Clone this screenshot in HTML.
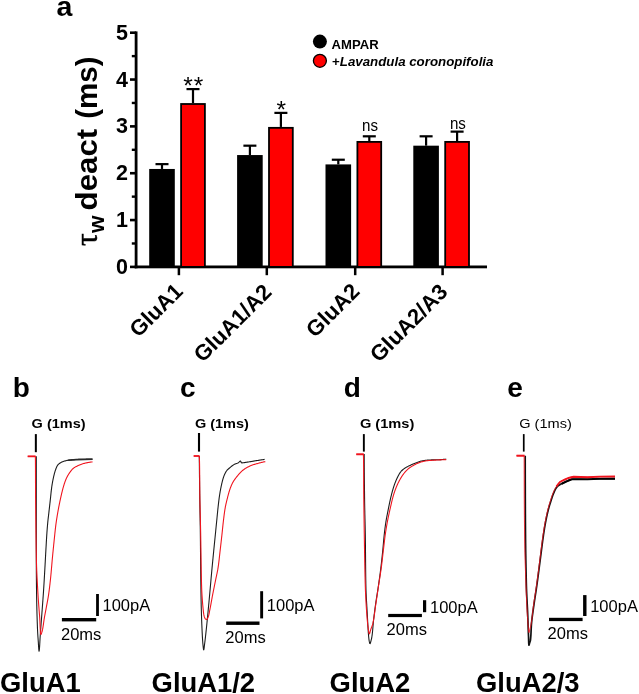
<!DOCTYPE html>
<html><head><meta charset="utf-8"><title>Figure</title>
<style>
html,body{margin:0;padding:0;background:#fff;}
body{width:639px;height:694px;overflow:hidden;font-family:"Liberation Sans",sans-serif;}
svg{display:block;will-change:transform;}
text{fill:#000;}
</style></head><body>
<svg width="639" height="694" viewBox="0 0 639 694">
<rect width="639" height="694" fill="#fff"/>
<text x="56.6" y="16.2" font-size="28.5" font-weight="bold" font-family="Liberation Sans, sans-serif">a</text>
<rect x="134.70" y="31.40" width="2.8" height="236.90" fill="#000"/>
<rect x="134.70" y="265.50" width="352.30" height="2.8" fill="#000"/>
<rect x="130" y="265.60" width="6" height="2.6" fill="#000"/>
<text x="128.0" y="273.90" font-size="21.5" font-weight="bold" text-anchor="end" font-family="Liberation Sans, sans-serif">0</text>
<rect x="130" y="218.76" width="6" height="2.6" fill="#000"/>
<text x="128.0" y="227.06" font-size="21.5" font-weight="bold" text-anchor="end" font-family="Liberation Sans, sans-serif">1</text>
<rect x="130" y="171.92" width="6" height="2.6" fill="#000"/>
<text x="128.0" y="180.22" font-size="21.5" font-weight="bold" text-anchor="end" font-family="Liberation Sans, sans-serif">2</text>
<rect x="130" y="125.08" width="6" height="2.6" fill="#000"/>
<text x="128.0" y="133.38" font-size="21.5" font-weight="bold" text-anchor="end" font-family="Liberation Sans, sans-serif">3</text>
<rect x="130" y="78.24" width="6" height="2.6" fill="#000"/>
<text x="128.0" y="86.54" font-size="21.5" font-weight="bold" text-anchor="end" font-family="Liberation Sans, sans-serif">4</text>
<rect x="130" y="31.40" width="6" height="2.6" fill="#000"/>
<text x="128.0" y="39.70" font-size="21.5" font-weight="bold" text-anchor="end" font-family="Liberation Sans, sans-serif">5</text>
<rect x="131.8" y="242.28" width="4" height="2.4" fill="#000"/>
<rect x="131.8" y="195.44" width="4" height="2.4" fill="#000"/>
<rect x="131.8" y="148.60" width="4" height="2.4" fill="#000"/>
<rect x="131.8" y="101.76" width="4" height="2.4" fill="#000"/>
<rect x="131.8" y="54.92" width="4" height="2.4" fill="#000"/>
<g transform="translate(96.7,246) rotate(-90)" font-weight="bold" font-family="Liberation Sans, sans-serif"><text x="0" y="0" font-family="Liberation Serif, serif" font-weight="normal" font-size="31.5" stroke="#000" stroke-width="0.5">τ</text><text x="13.1" y="6.8" font-size="22.5">w</text><text transform="translate(35.6,0) scale(1.06,1)" font-size="29.5">deact</text><text x="127.2" y="0" font-size="29.5">(ms)</text></g>
<rect x="160.90" y="164.13" width="2.2" height="4.82" fill="#000"/>
<rect x="155.50" y="163.03" width="13" height="2.2" fill="#000"/>
<rect x="191.90" y="89.10" width="2.2" height="14.01" fill="#000"/>
<rect x="186.50" y="88.00" width="13" height="2.2" fill="#000"/>
<rect x="149.20" y="168.96" width="25.6" height="97.94" fill="#000"/>
<rect x="181.10" y="104.00" width="23.8" height="162.90" fill="#ff0000" stroke="#000" stroke-width="1.8"/>
<rect x="177.65" y="266.90" width="2.5" height="8.3" fill="#000"/>
<text x="193.00" y="94.00" font-size="24.5" letter-spacing="0.9" text-anchor="middle" dx="0.8" font-family="Liberation Sans, sans-serif">**</text>
<rect x="248.80" y="145.68" width="2.2" height="9.37" fill="#000"/>
<rect x="243.40" y="144.58" width="13" height="2.2" fill="#000"/>
<rect x="279.80" y="112.89" width="2.2" height="14.05" fill="#000"/>
<rect x="274.40" y="111.79" width="13" height="2.2" fill="#000"/>
<rect x="237.10" y="155.05" width="25.6" height="111.85" fill="#000"/>
<rect x="269.00" y="127.84" width="23.8" height="139.06" fill="#ff0000" stroke="#000" stroke-width="1.8"/>
<rect x="265.55" y="266.90" width="2.5" height="8.3" fill="#000"/>
<text x="280.90" y="118.40" font-size="24.5" letter-spacing="0.9" text-anchor="middle" dx="0.8" font-family="Liberation Sans, sans-serif">*</text>
<rect x="337.20" y="159.73" width="2.2" height="4.68" fill="#000"/>
<rect x="331.80" y="158.63" width="13" height="2.2" fill="#000"/>
<rect x="368.20" y="136.31" width="2.2" height="4.68" fill="#000"/>
<rect x="362.80" y="135.21" width="13" height="2.2" fill="#000"/>
<rect x="325.50" y="164.41" width="25.6" height="102.49" fill="#000"/>
<rect x="357.40" y="141.89" width="23.8" height="125.01" fill="#ff0000" stroke="#000" stroke-width="1.8"/>
<rect x="353.95" y="266.90" width="2.5" height="8.3" fill="#000"/>
<text transform="translate(370.10,131.40) scale(0.9,1)" font-size="16.8" text-anchor="middle" font-family="Liberation Sans, sans-serif">ns</text>
<rect x="425.00" y="136.31" width="2.2" height="9.37" fill="#000"/>
<rect x="419.60" y="135.21" width="13" height="2.2" fill="#000"/>
<rect x="456.00" y="131.63" width="2.2" height="9.37" fill="#000"/>
<rect x="450.60" y="130.53" width="13" height="2.2" fill="#000"/>
<rect x="413.30" y="145.68" width="25.6" height="121.22" fill="#000"/>
<rect x="445.20" y="141.89" width="23.8" height="125.01" fill="#ff0000" stroke="#000" stroke-width="1.8"/>
<rect x="441.35" y="266.90" width="2.5" height="8.3" fill="#000"/>
<text transform="translate(457.90,128.70) scale(0.9,1)" font-size="16.8" text-anchor="middle" font-family="Liberation Sans, sans-serif">ns</text>
<text transform="translate(184.20,292.50) rotate(-45)" font-size="22" font-weight="bold" text-anchor="end" font-family="Liberation Sans, sans-serif">GluA1</text>
<text transform="translate(272.80,293.30) rotate(-45)" font-size="22" font-weight="bold" text-anchor="end" font-family="Liberation Sans, sans-serif">GluA1/A2</text>
<text transform="translate(360.90,292.60) rotate(-45)" font-size="22" font-weight="bold" text-anchor="end" font-family="Liberation Sans, sans-serif">GluA2</text>
<text transform="translate(449.00,293.20) rotate(-45)" font-size="22" font-weight="bold" text-anchor="end" font-family="Liberation Sans, sans-serif">GluA2/A3</text>
<circle cx="319.9" cy="41.6" r="7.0" fill="#000"/>
<circle cx="319.9" cy="60.8" r="6.5" fill="#ff0000" stroke="#000" stroke-width="1.3"/>
<text x="331.6" y="49.4" font-size="13.1" font-weight="bold" font-family="Liberation Sans, sans-serif">AMPAR</text>
<text x="332.0" y="66.1" font-size="13.3" font-weight="bold" font-family="Liberation Sans, sans-serif">+<tspan font-style="italic">Lavandula coronopifolia</tspan></text>
<path d="M36.30,456.30 L36.30,457.00 L36.30,457.70 L36.30,458.40 L36.30,459.10 L36.30,459.81 L36.30,460.51 L36.30,461.21 L36.30,461.91 L36.30,462.61 L36.30,463.31 L36.30,464.01 L36.30,464.71 L36.30,465.42 L36.30,466.12 L36.30,466.82 L36.30,467.52 L36.30,468.22 L36.30,468.92 L36.30,469.62 L36.30,470.32 L36.30,471.02 L36.30,471.73 L36.30,472.43 L36.30,473.13 L36.30,473.83 L36.30,474.53 L36.30,475.23 L36.30,475.93 L36.30,476.63 L36.30,477.34 L36.30,478.04 L36.30,478.74 L36.30,479.44 L36.30,480.14 L36.30,480.84 L36.30,481.54 L36.30,482.24 L36.30,482.94 L36.30,483.65 L36.30,484.35 L36.30,485.05 L36.30,485.75 L36.30,486.45 L36.30,487.15 L36.30,487.85 L36.30,488.55 L36.30,489.26 L36.30,489.96 L36.30,490.66 L36.30,491.36 L36.30,492.06 L36.30,492.76 L36.30,493.46 L36.30,494.16 L36.30,494.86 L36.30,495.57 L36.30,496.27 L36.30,496.97 L36.30,497.67 L36.30,498.37 L36.30,499.07 L36.30,499.77 L36.30,500.47 L36.30,501.18 L36.30,501.88 L36.30,502.58 L36.30,503.28 L36.30,503.98 L36.30,504.68 L36.30,505.38 L36.30,506.08 L36.30,506.79 L36.30,507.49 L36.30,508.19 L36.30,508.89 L36.30,509.59 L36.30,510.29 L36.30,510.99 L36.30,511.69 L36.30,512.39 L36.30,513.10 L36.30,513.80 L36.30,514.50 L36.30,515.20 L36.30,515.90 L36.30,516.60 L36.30,517.30 L36.30,518.00 L36.30,518.71 L36.30,519.41 L36.30,520.11 L36.30,520.81 L36.30,521.51 L36.30,522.21 L36.30,522.91 L36.30,523.61 L36.30,524.31 L36.30,525.02 L36.30,525.72 L36.30,526.42 L36.30,527.12 L36.30,527.82 L36.30,528.52 L36.30,529.22 L36.30,529.92 L36.30,530.63 L36.30,531.33 L36.30,532.03 L36.30,532.73 L36.30,533.43 L36.30,534.13 L36.30,534.83 L36.30,535.53 L36.30,536.23 L36.30,536.94 L36.30,537.64 L36.30,538.34 L36.30,539.04 L36.30,539.74 L36.30,540.44 L36.30,541.14 L36.30,541.84 L36.30,542.55 L36.30,543.25 L36.30,543.95 L36.30,544.65 L36.30,545.35 L36.30,546.05 L36.30,546.75 L36.30,547.45 L36.30,548.15 L36.30,548.86 L36.30,549.56 L36.30,550.26 L36.30,550.96 L36.30,551.66 L36.30,552.36 L36.30,553.06 L36.30,553.76 L36.30,554.47 L36.30,555.17 L36.30,555.87 L36.30,556.57 L36.30,557.27 L36.30,557.97 L36.30,558.67 L36.30,559.37 L36.30,560.07 L36.30,560.78 L36.30,561.48 L36.30,562.18 L36.30,562.88 L36.30,563.58 L36.31,564.28 L36.31,564.98 L36.31,565.68 L36.31,566.39 L36.32,567.09 L36.32,567.79 L36.32,568.49 L36.33,569.19 L36.33,569.89 L36.34,570.59 L36.34,571.29 L36.35,571.99 L36.35,572.70 L36.36,573.40 L36.36,574.10 L36.37,574.80 L36.37,575.50 L36.38,576.20 L36.39,576.90 L36.39,577.60 L36.40,578.31 L36.41,579.01 L36.42,579.71 L36.42,580.41 L36.43,581.11 L36.44,581.81 L36.45,582.51 L36.45,583.21 L36.46,583.91 L36.47,584.62 L36.48,585.32 L36.49,586.02 L36.49,586.72 L36.50,587.42 L36.51,588.12 L36.52,588.82 L36.53,589.52 L36.54,590.23 L36.55,590.93 L36.56,591.63 L36.57,592.33 L36.57,593.03 L36.58,593.73 L36.59,594.43 L36.60,595.13 L36.61,595.83 L36.62,596.53 L36.63,597.24 L36.64,597.94 L36.65,598.64 L36.66,599.34 L36.68,600.04 L36.69,600.74 L36.70,601.44 L36.71,602.14 L36.73,602.84 L36.74,603.55 L36.76,604.25 L36.77,604.95 L36.78,605.65 L36.80,606.35 L36.82,607.05 L36.83,607.75 L36.85,608.45 L36.87,609.15 L36.88,609.86 L36.90,610.56 L36.92,611.26 L36.94,611.96 L36.96,612.66 L36.97,613.36 L36.99,614.06 L37.01,614.76 L37.03,615.46 L37.06,616.17 L37.08,616.87 L37.10,617.57 L37.12,618.27 L37.14,618.97 L37.16,619.67 L37.19,620.37 L37.21,621.07 L37.23,621.77 L37.26,622.47 L37.28,623.17 L37.31,623.87 L37.33,624.57 L37.36,625.28 L37.38,625.98 L37.41,626.68 L37.44,627.38 L37.46,628.08 L37.49,628.78 L37.52,629.48 L37.55,630.18 L37.58,630.88 L37.62,631.58 L37.66,632.28 L37.69,632.98 L37.74,633.68 L37.78,634.38 L37.82,635.08 L37.87,635.78 L37.91,636.48 L37.96,637.18 L38.01,637.88 L38.06,638.58 L38.11,639.28 L38.16,639.98 L38.21,640.68 L38.26,641.38 L38.31,642.08 L38.36,642.83 L38.41,643.67 L38.46,644.56 L38.52,645.49 L38.58,646.42 L38.64,647.33 L38.70,648.20 L38.76,649.01 L38.82,649.72 L38.88,650.32 L38.93,650.79 L38.99,651.09 L39.05,651.20 L39.10,651.15 L39.16,651.00 L39.21,650.76 L39.26,650.43 L39.31,650.01 L39.37,649.52 L39.42,648.96 L39.47,648.33 L39.52,647.64 L39.57,646.90 L39.63,646.12 L39.68,645.29 L39.73,644.44 L39.78,643.55 L39.83,642.65 L39.88,641.73 L39.93,640.80 L39.98,639.86 L40.03,638.94 L40.08,638.02 L40.14,637.11 L40.19,636.23 L40.24,635.38 L40.29,634.56 L40.34,633.79 L40.40,633.06 L40.45,632.36 L40.50,631.66 L40.55,630.96 L40.61,630.26 L40.66,629.56 L40.71,628.86 L40.77,628.16 L40.82,627.47 L40.87,626.77 L40.93,626.07 L40.98,625.37 L41.04,624.67 L41.09,623.97 L41.14,623.27 L41.20,622.57 L41.25,621.87 L41.30,621.17 L41.36,620.47 L41.41,619.78 L41.46,619.08 L41.52,618.38 L41.57,617.68 L41.62,616.98 L41.68,616.28 L41.73,615.58 L41.78,614.88 L41.84,614.18 L41.89,613.48 L41.94,612.78 L41.99,612.08 L42.05,611.39 L42.10,610.69 L42.15,609.99 L42.20,609.29 L42.26,608.59 L42.31,607.89 L42.36,607.19 L42.41,606.49 L42.47,605.79 L42.52,605.09 L42.57,604.39 L42.62,603.69 L42.68,602.99 L42.73,602.30 L42.78,601.60 L42.83,600.90 L42.88,600.20 L42.94,599.50 L42.99,598.80 L43.04,598.10 L43.09,597.40 L43.14,596.70 L43.19,596.00 L43.24,595.30 L43.29,594.60 L43.34,593.90 L43.39,593.20 L43.43,592.50 L43.48,591.80 L43.53,591.10 L43.57,590.41 L43.62,589.71 L43.66,589.01 L43.71,588.31 L43.75,587.61 L43.80,586.91 L43.84,586.21 L43.88,585.51 L43.93,584.81 L43.97,584.11 L44.01,583.41 L44.05,582.71 L44.10,582.01 L44.14,581.31 L44.18,580.61 L44.22,579.91 L44.26,579.21 L44.30,578.51 L44.34,577.81 L44.38,577.11 L44.42,576.41 L44.46,575.71 L44.50,575.01 L44.54,574.31 L44.58,573.61 L44.62,572.91 L44.66,572.21 L44.70,571.51 L44.74,570.81 L44.78,570.11 L44.82,569.41 L44.86,568.71 L44.90,568.01 L44.94,567.31 L44.98,566.61 L45.02,565.91 L45.06,565.21 L45.10,564.51 L45.13,563.81 L45.17,563.11 L45.21,562.41 L45.25,561.71 L45.29,561.01 L45.32,560.31 L45.36,559.61 L45.40,558.91 L45.44,558.21 L45.48,557.50 L45.51,556.80 L45.55,556.10 L45.59,555.40 L45.63,554.70 L45.66,554.00 L45.70,553.30 L45.74,552.60 L45.78,551.90 L45.82,551.20 L45.86,550.50 L45.90,549.80 L45.94,549.10 L45.98,548.40 L46.02,547.70 L46.06,547.00 L46.10,546.30 L46.14,545.60 L46.18,544.90 L46.22,544.20 L46.26,543.50 L46.29,542.80 L46.33,542.10 L46.37,541.40 L46.42,540.70 L46.46,540.00 L46.50,539.30 L46.54,538.60 L46.58,537.90 L46.62,537.20 L46.67,536.50 L46.71,535.80 L46.76,535.10 L46.80,534.40 L46.85,533.70 L46.90,533.00 L46.95,532.31 L47.00,531.61 L47.05,530.91 L47.10,530.21 L47.16,529.51 L47.21,528.81 L47.27,528.11 L47.32,527.41 L47.38,526.71 L47.44,526.01 L47.50,525.31 L47.56,524.62 L47.62,523.92 L47.69,523.22 L47.75,522.52 L47.82,521.82 L47.89,521.13 L47.96,520.43 L48.03,519.73 L48.11,519.03 L48.19,518.34 L48.27,517.64 L48.35,516.95 L48.44,516.25 L48.52,515.55 L48.60,514.86 L48.68,514.16 L48.77,513.46 L48.85,512.77 L48.93,512.07 L49.00,511.37 L49.08,510.68 L49.16,509.98 L49.24,509.28 L49.32,508.59 L49.40,507.89 L49.48,507.19 L49.56,506.50 L49.64,505.80 L49.71,505.10 L49.79,504.41 L49.87,503.71 L49.95,503.01 L50.03,502.32 L50.11,501.62 L50.19,500.92 L50.26,500.23 L50.34,499.53 L50.42,498.83 L50.49,498.13 L50.56,497.44 L50.64,496.74 L50.71,496.04 L50.78,495.34 L50.85,494.64 L50.92,493.95 L50.99,493.25 L51.07,492.55 L51.14,491.85 L51.22,491.16 L51.30,490.46 L51.38,489.76 L51.47,489.07 L51.56,488.37 L51.65,487.68 L51.74,486.99 L51.84,486.29 L51.95,485.60 L52.06,484.91 L52.17,484.21 L52.29,483.52 L52.41,482.83 L52.53,482.14 L52.66,481.45 L52.79,480.76 L52.92,480.07 L53.06,479.38 L53.20,478.69 L53.35,478.01 L53.50,477.32 L53.65,476.64 L53.81,475.96 L53.97,475.28 L54.14,474.60 L54.32,473.91 L54.50,473.23 L54.69,472.55 L54.89,471.88 L55.10,471.21 L55.31,470.54 L55.54,469.88 L55.78,469.22 L56.03,468.57 L56.29,467.91 L56.56,467.23 L56.86,466.57 L57.19,465.94 L57.54,465.34 L57.92,464.80 L58.36,464.31 L58.89,463.85 L59.47,463.43 L60.08,463.03 L60.70,462.68 L61.31,462.36 L61.94,462.05 L62.59,461.77 L63.25,461.50 L63.91,461.26 L64.58,461.04 L65.25,460.86 L65.93,460.70 L66.62,460.55 L67.31,460.41 L68.00,460.29 L68.70,460.18 L69.39,460.09 L70.09,460.01 L70.78,459.93 L71.48,459.85 L72.18,459.79 L72.88,459.72 L73.58,459.66 L74.28,459.61 L74.98,459.57 L75.68,459.53 L76.38,459.50 L77.08,459.47 L77.78,459.44 L78.48,459.41 L79.18,459.39 L79.88,459.36 L80.58,459.34 L81.28,459.31 L81.98,459.29 L82.68,459.27 L83.38,459.24 L84.08,459.22 L84.78,459.21 L85.48,459.19 L86.18,459.17 L86.88,459.16 L87.59,459.15 L88.29,459.13 L88.99,459.12 L89.69,459.12 L90.39,459.11 L91.10,459.10 L91.80,459.10 L92.50,459.10" fill="none" stroke="#1c1c1c" stroke-width="1.1" stroke-linejoin="round" stroke-linecap="butt" />
<path d="M68.00,460.20 L76.30,459.60 L92.50,459.20" fill="none" stroke="#2a2a2a" stroke-width="1.6" stroke-linejoin="round" stroke-linecap="butt" />
<path d="M27.70,456.40 L35.60,456.40" fill="none" stroke="#f0141e" stroke-width="1.7" stroke-linejoin="round" stroke-linecap="butt" />
<path d="M27.70,456.30 L28.55,456.30 L29.45,456.30 L30.38,456.30 L31.32,456.30 L32.22,456.30 L33.06,456.30 L33.81,456.30 L34.44,456.30 L34.92,456.30 L35.21,456.30 L35.30,456.30 L35.31,456.33 L35.33,456.41 L35.34,456.52 L35.35,456.68 L35.36,456.88 L35.37,457.12 L35.38,457.40 L35.39,457.71 L35.39,458.06 L35.40,458.45 L35.41,458.87 L35.42,459.32 L35.42,459.81 L35.43,460.32 L35.44,460.87 L35.44,461.44 L35.45,462.04 L35.45,462.67 L35.46,463.33 L35.46,464.00 L35.47,464.71 L35.47,465.43 L35.47,466.17 L35.48,466.94 L35.48,467.72 L35.48,468.52 L35.49,469.34 L35.49,470.17 L35.49,471.02 L35.50,471.88 L35.50,472.75 L35.50,473.64 L35.50,474.53 L35.51,475.43 L35.51,476.35 L35.51,477.26 L35.51,478.19 L35.51,479.12 L35.52,480.05 L35.52,480.98 L35.52,481.92 L35.52,482.86 L35.53,483.79 L35.53,484.73 L35.53,485.66 L35.53,486.58 L35.54,487.51 L35.54,488.42 L35.54,489.33 L35.55,490.23 L35.55,491.12 L35.55,492.00 L35.56,492.87 L35.56,493.72 L35.56,494.56 L35.57,495.39 L35.57,496.20 L35.58,496.99 L35.58,497.77 L35.59,498.53 L35.59,499.26 L35.60,499.98 L35.61,500.68 L35.61,501.38 L35.62,502.08 L35.62,502.79 L35.63,503.49 L35.64,504.19 L35.64,504.89 L35.65,505.60 L35.66,506.30 L35.66,507.00 L35.67,507.70 L35.68,508.41 L35.68,509.11 L35.69,509.81 L35.70,510.51 L35.70,511.22 L35.71,511.92 L35.72,512.62 L35.72,513.32 L35.73,514.03 L35.74,514.73 L35.74,515.43 L35.75,516.13 L35.76,516.84 L35.76,517.54 L35.77,518.24 L35.78,518.94 L35.79,519.65 L35.79,520.35 L35.80,521.05 L35.81,521.75 L35.82,522.46 L35.82,523.16 L35.83,523.86 L35.84,524.56 L35.85,525.26 L35.86,525.97 L35.86,526.67 L35.87,527.37 L35.88,528.07 L35.89,528.78 L35.90,529.48 L35.91,530.18 L35.91,530.88 L35.92,531.59 L35.93,532.29 L35.94,532.99 L35.95,533.69 L35.96,534.40 L35.97,535.10 L35.98,535.80 L35.99,536.50 L36.00,537.21 L36.01,537.91 L36.02,538.61 L36.03,539.31 L36.04,540.02 L36.05,540.72 L36.06,541.42 L36.07,542.12 L36.08,542.83 L36.09,543.53 L36.10,544.23 L36.12,544.93 L36.13,545.63 L36.14,546.34 L36.15,547.04 L36.16,547.74 L36.17,548.44 L36.19,549.15 L36.20,549.85 L36.21,550.55 L36.22,551.25 L36.24,551.95 L36.25,552.66 L36.26,553.36 L36.28,554.06 L36.29,554.76 L36.31,555.47 L36.32,556.17 L36.33,556.87 L36.35,557.57 L36.36,558.27 L36.38,558.98 L36.39,559.68 L36.41,560.38 L36.42,561.08 L36.44,561.78 L36.46,562.49 L36.48,563.19 L36.50,563.89 L36.52,564.59 L36.54,565.29 L36.57,566.00 L36.59,566.70 L36.62,567.40 L36.64,568.10 L36.67,568.80 L36.70,569.51 L36.72,570.21 L36.75,570.91 L36.78,571.61 L36.81,572.31 L36.84,573.01 L36.87,573.72 L36.91,574.42 L36.94,575.12 L36.97,575.82 L37.01,576.52 L37.04,577.23 L37.08,577.93 L37.11,578.63 L37.15,579.33 L37.18,580.03 L37.22,580.73 L37.26,581.44 L37.29,582.14 L37.33,582.84 L37.37,583.54 L37.41,584.24 L37.45,584.94 L37.49,585.64 L37.53,586.35 L37.57,587.05 L37.61,587.75 L37.65,588.45 L37.69,589.15 L37.73,589.85 L37.77,590.55 L37.81,591.26 L37.85,591.96 L37.89,592.66 L37.93,593.36 L37.97,594.06 L38.01,594.76 L38.05,595.46 L38.09,596.16 L38.14,596.86 L38.18,597.57 L38.23,598.27 L38.28,598.97 L38.32,599.67 L38.37,600.37 L38.42,601.07 L38.48,601.77 L38.53,602.47 L38.58,603.17 L38.63,603.87 L38.69,604.57 L38.74,605.27 L38.79,605.97 L38.85,606.67 L38.90,607.37 L38.96,608.07 L39.01,608.77 L39.07,609.47 L39.12,610.17 L39.18,610.87 L39.24,611.57 L39.29,612.27 L39.35,612.98 L39.40,613.68 L39.46,614.38 L39.51,615.08 L39.56,615.78 L39.62,616.48 L39.67,617.18 L39.72,617.88 L39.77,618.63 L39.81,619.43 L39.86,620.27 L39.90,621.14 L39.94,622.04 L39.97,622.95 L40.01,623.88 L40.05,624.82 L40.08,625.75 L40.12,626.67 L40.16,627.57 L40.20,628.45 L40.24,629.30 L40.28,630.11 L40.33,630.88 L40.38,631.59 L40.44,632.24 L40.50,632.82 L40.56,633.33 L40.63,633.76 L40.71,634.09 L40.79,634.33 L40.88,634.47 L40.98,634.48 L41.17,634.15 L41.42,633.49 L41.71,632.66 L41.99,631.79 L42.20,631.01 L42.36,630.34 L42.51,629.66 L42.64,628.97 L42.78,628.29 L42.90,627.60 L43.02,626.91 L43.13,626.21 L43.23,625.52 L43.34,624.82 L43.44,624.12 L43.53,623.42 L43.63,622.72 L43.73,622.02 L43.82,621.33 L43.92,620.63 L44.03,619.93 L44.13,619.23 L44.24,618.54 L44.36,617.84 L44.48,617.15 L44.60,616.46 L44.73,615.77 L44.86,615.08 L44.99,614.39 L45.12,613.70 L45.25,613.01 L45.38,612.32 L45.52,611.63 L45.65,610.94 L45.78,610.25 L45.91,609.56 L46.04,608.87 L46.17,608.18 L46.29,607.49 L46.42,606.80 L46.55,606.10 L46.68,605.41 L46.82,604.72 L46.95,604.03 L47.08,603.34 L47.21,602.65 L47.34,601.96 L47.47,601.27 L47.60,600.58 L47.72,599.89 L47.85,599.20 L47.97,598.51 L48.09,597.81 L48.21,597.12 L48.32,596.43 L48.43,595.74 L48.54,595.04 L48.64,594.35 L48.74,593.65 L48.83,592.96 L48.93,592.26 L49.02,591.57 L49.12,590.87 L49.21,590.17 L49.30,589.48 L49.38,588.78 L49.47,588.08 L49.56,587.39 L49.64,586.69 L49.72,585.99 L49.80,585.29 L49.89,584.59 L49.96,583.90 L50.04,583.20 L50.12,582.50 L50.20,581.80 L50.27,581.10 L50.35,580.40 L50.42,579.70 L50.50,579.01 L50.57,578.31 L50.64,577.61 L50.71,576.91 L50.78,576.21 L50.85,575.51 L50.92,574.81 L50.98,574.11 L51.05,573.41 L51.11,572.71 L51.17,572.02 L51.23,571.32 L51.30,570.62 L51.36,569.92 L51.42,569.22 L51.48,568.52 L51.54,567.82 L51.60,567.12 L51.66,566.42 L51.72,565.72 L51.78,565.02 L51.84,564.32 L51.90,563.62 L51.96,562.92 L52.02,562.22 L52.08,561.52 L52.14,560.82 L52.20,560.12 L52.27,559.42 L52.33,558.72 L52.40,558.02 L52.46,557.32 L52.53,556.62 L52.60,555.92 L52.67,555.22 L52.73,554.52 L52.80,553.82 L52.87,553.12 L52.94,552.43 L53.01,551.73 L53.08,551.03 L53.15,550.33 L53.21,549.63 L53.28,548.93 L53.35,548.23 L53.43,547.53 L53.50,546.83 L53.57,546.13 L53.64,545.44 L53.71,544.74 L53.78,544.04 L53.85,543.34 L53.93,542.64 L54.00,541.94 L54.07,541.24 L54.14,540.55 L54.22,539.85 L54.29,539.15 L54.36,538.45 L54.43,537.75 L54.50,537.05 L54.58,536.35 L54.65,535.65 L54.72,534.95 L54.79,534.26 L54.86,533.56 L54.94,532.86 L55.01,532.16 L55.09,531.46 L55.16,530.76 L55.24,530.06 L55.31,529.37 L55.39,528.67 L55.47,527.97 L55.56,527.27 L55.64,526.57 L55.72,525.88 L55.81,525.18 L55.90,524.49 L55.99,523.79 L56.09,523.09 L56.19,522.40 L56.28,521.70 L56.39,521.01 L56.49,520.31 L56.59,519.62 L56.70,518.92 L56.81,518.23 L56.92,517.54 L57.03,516.84 L57.15,516.15 L57.26,515.46 L57.38,514.76 L57.50,514.07 L57.62,513.38 L57.74,512.69 L57.86,511.99 L57.98,511.30 L58.10,510.61 L58.23,509.92 L58.36,509.23 L58.48,508.54 L58.61,507.85 L58.75,507.16 L58.88,506.47 L59.01,505.78 L59.15,505.09 L59.29,504.40 L59.43,503.71 L59.57,503.02 L59.71,502.33 L59.86,501.65 L60.00,500.96 L60.15,500.27 L60.30,499.59 L60.45,498.90 L60.60,498.21 L60.75,497.53 L60.91,496.84 L61.06,496.16 L61.22,495.47 L61.38,494.79 L61.53,494.10 L61.69,493.42 L61.86,492.73 L62.02,492.05 L62.19,491.37 L62.36,490.68 L62.53,490.00 L62.71,489.32 L62.89,488.64 L63.07,487.97 L63.26,487.29 L63.46,486.62 L63.66,485.95 L63.86,485.28 L64.07,484.60 L64.28,483.93 L64.50,483.26 L64.73,482.59 L64.96,481.93 L65.20,481.27 L65.45,480.61 L65.71,479.95 L65.98,479.30 L66.25,478.66 L66.53,478.03 L66.83,477.39 L67.15,476.77 L67.48,476.14 L67.83,475.53 L68.19,474.92 L68.56,474.32 L68.94,473.73 L69.33,473.15 L69.73,472.57 L70.14,471.99 L70.56,471.41 L71.00,470.84 L71.44,470.28 L71.91,469.74 L72.39,469.22 L72.88,468.74 L73.39,468.29 L73.92,467.88 L74.50,467.49 L75.10,467.13 L75.73,466.79 L76.36,466.46 L77.00,466.14 L77.64,465.83 L78.27,465.53 L78.91,465.23 L79.55,464.94 L80.20,464.66 L80.85,464.40 L81.51,464.16 L82.18,463.94 L82.84,463.74 L83.52,463.55 L84.20,463.36 L84.88,463.18 L85.57,463.02 L86.25,462.87 L86.94,462.72 L87.63,462.59 L88.32,462.47 L89.01,462.36 L89.71,462.25 L90.40,462.15 L91.10,462.05 L91.80,461.97 L92.50,461.90" fill="none" stroke="#f0141e" stroke-width="1.1" stroke-linejoin="round" stroke-linecap="butt" />
<text x="12.7" y="397.3" font-size="28" font-weight="bold" font-family="Liberation Sans, sans-serif">b</text>
<text transform="translate(31.6,427.7) scale(1.09,1)" font-size="13.3" font-weight="bold" font-family="Liberation Sans, sans-serif">G (1ms)</text>
<rect x="34.85" y="434.1" width="2.0" height="18.1" fill="#000"/>
<rect x="61.9" y="618.0" width="34.3" height="3.4" fill="#000"/>
<rect x="96.1" y="594" width="2.8" height="22.0" fill="#000"/>
<text x="102.5" y="611" font-size="16.5" font-family="Liberation Sans, sans-serif">100pA</text>
<text x="61" y="640" font-size="16.5" font-family="Liberation Sans, sans-serif">20ms</text>
<text x="0.0" y="691.5" font-size="27.4" font-weight="bold" font-family="Liberation Sans, sans-serif">GluA1</text>
<path d="M199.30,456.00 L199.31,456.70 L199.31,457.40 L199.32,458.11 L199.32,458.81 L199.33,459.51 L199.34,460.21 L199.34,460.91 L199.35,461.62 L199.36,462.32 L199.36,463.02 L199.37,463.72 L199.38,464.42 L199.38,465.13 L199.39,465.83 L199.40,466.53 L199.40,467.23 L199.41,467.93 L199.42,468.63 L199.42,469.34 L199.43,470.04 L199.44,470.74 L199.45,471.44 L199.45,472.14 L199.46,472.85 L199.47,473.55 L199.48,474.25 L199.49,474.95 L199.49,475.65 L199.50,476.36 L199.51,477.06 L199.52,477.76 L199.53,478.46 L199.53,479.16 L199.54,479.87 L199.55,480.57 L199.56,481.27 L199.57,481.97 L199.58,482.67 L199.58,483.37 L199.59,484.08 L199.60,484.78 L199.61,485.48 L199.62,486.18 L199.63,486.88 L199.64,487.59 L199.65,488.29 L199.65,488.99 L199.66,489.69 L199.67,490.39 L199.68,491.10 L199.69,491.80 L199.70,492.50 L199.71,493.20 L199.72,493.90 L199.73,494.61 L199.74,495.31 L199.75,496.01 L199.76,496.71 L199.76,497.41 L199.77,498.11 L199.78,498.82 L199.79,499.52 L199.80,500.22 L199.81,500.92 L199.82,501.62 L199.83,502.33 L199.84,503.03 L199.86,503.73 L199.87,504.43 L199.88,505.13 L199.89,505.83 L199.90,506.54 L199.91,507.24 L199.93,507.94 L199.94,508.64 L199.95,509.34 L199.96,510.05 L199.98,510.75 L199.99,511.45 L200.00,512.15 L200.01,512.85 L200.03,513.56 L200.04,514.26 L200.05,514.96 L200.07,515.66 L200.08,516.36 L200.09,517.06 L200.10,517.77 L200.12,518.47 L200.13,519.17 L200.14,519.87 L200.15,520.57 L200.17,521.28 L200.18,521.98 L200.19,522.68 L200.20,523.38 L200.21,524.08 L200.22,524.78 L200.24,525.49 L200.25,526.19 L200.26,526.89 L200.27,527.59 L200.28,528.29 L200.29,529.00 L200.30,529.70 L200.31,530.40 L200.31,531.10 L200.32,531.80 L200.33,532.51 L200.34,533.21 L200.35,533.91 L200.36,534.61 L200.36,535.31 L200.37,536.01 L200.38,536.72 L200.39,537.42 L200.39,538.12 L200.40,538.82 L200.41,539.52 L200.42,540.23 L200.42,540.93 L200.43,541.63 L200.44,542.33 L200.44,543.03 L200.45,543.74 L200.46,544.44 L200.46,545.14 L200.47,545.84 L200.48,546.54 L200.48,547.25 L200.49,547.95 L200.50,548.65 L200.50,549.35 L200.51,550.05 L200.51,550.76 L200.52,551.46 L200.53,552.16 L200.53,552.86 L200.54,553.56 L200.54,554.26 L200.55,554.97 L200.56,555.67 L200.56,556.37 L200.57,557.07 L200.57,557.77 L200.58,558.48 L200.59,559.18 L200.59,559.88 L200.60,560.58 L200.61,561.28 L200.61,561.99 L200.62,562.69 L200.62,563.39 L200.63,564.09 L200.64,564.79 L200.64,565.50 L200.65,566.20 L200.66,566.90 L200.66,567.60 L200.67,568.30 L200.68,569.01 L200.68,569.71 L200.69,570.41 L200.70,571.11 L200.71,571.81 L200.71,572.51 L200.72,573.22 L200.73,573.92 L200.74,574.62 L200.74,575.32 L200.75,576.02 L200.76,576.73 L200.77,577.43 L200.78,578.13 L200.79,578.83 L200.79,579.53 L200.80,580.24 L200.81,580.94 L200.82,581.64 L200.83,582.34 L200.84,583.04 L200.85,583.75 L200.86,584.45 L200.87,585.15 L200.88,585.85 L200.89,586.55 L200.90,587.25 L200.91,587.96 L200.91,588.66 L200.92,589.36 L200.94,590.06 L200.95,590.76 L200.96,591.47 L200.97,592.17 L200.98,592.87 L200.99,593.57 L201.00,594.27 L201.01,594.98 L201.02,595.68 L201.03,596.38 L201.05,597.08 L201.06,597.78 L201.07,598.49 L201.08,599.19 L201.10,599.89 L201.11,600.59 L201.12,601.29 L201.14,601.99 L201.15,602.70 L201.17,603.40 L201.18,604.10 L201.20,604.80 L201.21,605.50 L201.23,606.20 L201.25,606.91 L201.26,607.61 L201.28,608.31 L201.30,609.01 L201.32,609.71 L201.34,610.41 L201.36,611.12 L201.38,611.82 L201.40,612.52 L201.42,613.22 L201.44,613.92 L201.46,614.63 L201.48,615.33 L201.51,616.03 L201.53,616.73 L201.55,617.43 L201.58,618.13 L201.60,618.84 L201.63,619.54 L201.65,620.24 L201.68,620.94 L201.71,621.64 L201.73,622.34 L201.76,623.04 L201.79,623.75 L201.82,624.45 L201.85,625.15 L201.88,625.85 L201.91,626.55 L201.94,627.25 L201.97,627.95 L202.00,628.66 L202.03,629.36 L202.06,630.06 L202.09,630.76 L202.13,631.46 L202.16,632.16 L202.19,632.86 L202.23,633.56 L202.26,634.26 L202.30,634.96 L202.33,635.67 L202.37,636.37 L202.41,637.07 L202.45,637.77 L202.50,638.47 L202.54,639.17 L202.59,639.87 L202.63,640.57 L202.69,641.27 L202.74,641.97 L202.79,642.67 L202.85,643.37 L202.91,644.07 L202.98,644.77 L203.05,645.51 L203.13,646.37 L203.23,647.29 L203.33,648.19 L203.44,648.97 L203.55,649.56 L203.66,649.87 L203.76,649.84 L203.87,649.51 L203.98,648.95 L204.09,648.22 L204.20,647.37 L204.31,646.45 L204.41,645.54 L204.51,644.67 L204.61,643.92 L204.70,643.22 L204.79,642.53 L204.88,641.83 L204.97,641.14 L205.05,640.44 L205.14,639.74 L205.22,639.04 L205.30,638.35 L205.38,637.65 L205.46,636.95 L205.54,636.25 L205.62,635.56 L205.70,634.86 L205.77,634.16 L205.85,633.46 L205.93,632.77 L206.00,632.07 L206.08,631.37 L206.15,630.67 L206.23,629.97 L206.30,629.28 L206.37,628.58 L206.45,627.88 L206.52,627.18 L206.59,626.48 L206.66,625.79 L206.74,625.09 L206.81,624.39 L206.88,623.69 L206.95,622.99 L207.02,622.29 L207.09,621.60 L207.16,620.90 L207.23,620.20 L207.30,619.50 L207.36,618.80 L207.43,618.10 L207.50,617.40 L207.57,616.71 L207.64,616.01 L207.70,615.31 L207.77,614.61 L207.84,613.91 L207.91,613.21 L207.97,612.51 L208.04,611.81 L208.11,611.11 L208.17,610.42 L208.24,609.72 L208.31,609.02 L208.37,608.32 L208.44,607.62 L208.51,606.92 L208.57,606.22 L208.64,605.52 L208.71,604.83 L208.77,604.13 L208.84,603.43 L208.91,602.73 L208.97,602.03 L209.04,601.33 L209.10,600.63 L209.17,599.93 L209.23,599.23 L209.29,598.54 L209.36,597.84 L209.42,597.14 L209.49,596.44 L209.55,595.74 L209.61,595.04 L209.68,594.34 L209.74,593.64 L209.80,592.94 L209.86,592.24 L209.93,591.54 L209.99,590.85 L210.05,590.15 L210.11,589.45 L210.18,588.75 L210.24,588.05 L210.30,587.35 L210.36,586.65 L210.43,585.95 L210.49,585.25 L210.55,584.55 L210.61,583.85 L210.67,583.15 L210.74,582.46 L210.80,581.76 L210.86,581.06 L210.92,580.36 L210.99,579.66 L211.05,578.96 L211.11,578.26 L211.17,577.56 L211.24,576.86 L211.30,576.16 L211.36,575.46 L211.43,574.76 L211.49,574.07 L211.56,573.37 L211.62,572.67 L211.68,571.97 L211.75,571.27 L211.81,570.57 L211.88,569.87 L211.94,569.17 L212.01,568.47 L212.07,567.78 L212.14,567.08 L212.21,566.38 L212.27,565.68 L212.34,564.98 L212.41,564.28 L212.47,563.58 L212.54,562.88 L212.61,562.18 L212.68,561.49 L212.74,560.79 L212.81,560.09 L212.88,559.39 L212.95,558.69 L213.02,557.99 L213.08,557.29 L213.15,556.60 L213.22,555.90 L213.29,555.20 L213.36,554.50 L213.43,553.80 L213.50,553.10 L213.57,552.40 L213.64,551.71 L213.70,551.01 L213.77,550.31 L213.84,549.61 L213.91,548.91 L213.98,548.21 L214.05,547.51 L214.12,546.82 L214.19,546.12 L214.26,545.42 L214.33,544.72 L214.40,544.02 L214.47,543.32 L214.54,542.62 L214.61,541.93 L214.68,541.23 L214.75,540.53 L214.82,539.83 L214.89,539.13 L214.96,538.43 L215.03,537.74 L215.10,537.04 L215.17,536.34 L215.24,535.64 L215.31,534.94 L215.38,534.24 L215.45,533.55 L215.52,532.85 L215.59,532.15 L215.66,531.45 L215.72,530.75 L215.79,530.05 L215.86,529.35 L215.93,528.66 L216.00,527.96 L216.07,527.26 L216.14,526.56 L216.21,525.86 L216.28,525.16 L216.35,524.46 L216.42,523.77 L216.49,523.07 L216.56,522.37 L216.63,521.67 L216.70,520.97 L216.77,520.27 L216.84,519.58 L216.91,518.88 L216.98,518.18 L217.04,517.48 L217.11,516.78 L217.18,516.08 L217.25,515.38 L217.31,514.68 L217.38,513.99 L217.45,513.29 L217.52,512.59 L217.59,511.89 L217.66,511.19 L217.73,510.49 L217.80,509.79 L217.87,509.10 L217.95,508.40 L218.02,507.70 L218.10,507.00 L218.18,506.31 L218.26,505.61 L218.33,504.91 L218.41,504.21 L218.49,503.51 L218.57,502.82 L218.66,502.12 L218.74,501.42 L218.82,500.73 L218.91,500.03 L219.00,499.33 L219.09,498.64 L219.18,497.94 L219.28,497.25 L219.38,496.55 L219.48,495.86 L219.58,495.16 L219.69,494.47 L219.80,493.78 L219.91,493.08 L220.03,492.39 L220.15,491.70 L220.27,491.01 L220.40,490.31 L220.53,489.62 L220.66,488.93 L220.79,488.24 L220.93,487.56 L221.07,486.87 L221.22,486.18 L221.37,485.50 L221.51,484.81 L221.67,484.12 L221.82,483.44 L221.98,482.75 L222.15,482.06 L222.32,481.38 L222.49,480.69 L222.67,480.01 L222.86,479.34 L223.06,478.66 L223.27,478.00 L223.48,477.33 L223.71,476.68 L223.95,476.02 L224.21,475.36 L224.48,474.70 L224.77,474.05 L225.08,473.41 L225.41,472.77 L225.75,472.16 L226.12,471.57 L226.49,471.01 L226.91,470.47 L227.37,469.95 L227.86,469.45 L228.39,468.97 L228.93,468.49 L229.47,468.03 L230.01,467.58 L230.55,467.12 L231.09,466.67 L231.64,466.23 L232.20,465.79 L232.77,465.37 L233.35,464.97 L233.94,464.61 L234.54,464.27 L235.18,463.98 L235.84,463.73 L236.51,463.48 L237.18,463.23 L237.82,462.96 L238.43,462.64 L239.01,462.17 L239.58,461.58 L240.10,461.11 L240.55,461.06 L240.90,461.73 L241.25,462.57 L241.67,462.90 L242.21,462.87 L242.84,462.81 L243.54,462.72 L244.28,462.62 L245.05,462.50 L245.82,462.38 L246.57,462.26 L247.27,462.16 L247.96,462.06 L248.66,461.95 L249.35,461.83 L250.04,461.72 L250.73,461.60 L251.43,461.48 L252.12,461.36 L252.81,461.23 L253.50,461.12 L254.19,461.00 L254.89,460.88 L255.58,460.77 L256.27,460.66 L256.96,460.55 L257.66,460.44 L258.35,460.34 L259.05,460.23 L259.74,460.12 L260.43,460.02 L261.13,459.91 L261.82,459.81 L262.52,459.71 L263.21,459.60 L263.91,459.50 L264.60,459.40" fill="none" stroke="#1c1c1c" stroke-width="1.1" stroke-linejoin="round" stroke-linecap="butt" />
<path d="M193.70,456.00 L194.53,456.00 L195.44,456.00 L196.37,456.00 L197.25,456.00 L198.02,456.00 L198.62,456.00 L199.00,456.00 L199.11,456.00 L199.14,456.04 L199.17,456.12 L199.20,456.24 L199.23,456.40 L199.26,456.60 L199.29,456.85 L199.31,457.13 L199.33,457.44 L199.36,457.80 L199.38,458.18 L199.40,458.61 L199.42,459.06 L199.44,459.55 L199.45,460.06 L199.47,460.61 L199.49,461.18 L199.50,461.78 L199.52,462.41 L199.53,463.06 L199.54,463.74 L199.56,464.44 L199.57,465.16 L199.58,465.91 L199.59,466.67 L199.60,467.45 L199.61,468.25 L199.62,469.06 L199.63,469.89 L199.63,470.74 L199.64,471.60 L199.65,472.47 L199.66,473.35 L199.66,474.25 L199.67,475.15 L199.68,476.06 L199.68,476.97 L199.69,477.90 L199.69,478.82 L199.70,479.75 L199.71,480.69 L199.71,481.62 L199.72,482.56 L199.72,483.50 L199.73,484.43 L199.73,485.36 L199.74,486.29 L199.75,487.21 L199.75,488.13 L199.76,489.04 L199.77,489.94 L199.78,490.83 L199.79,491.71 L199.79,492.58 L199.80,493.44 L199.81,494.29 L199.82,495.12 L199.83,495.93 L199.84,496.73 L199.86,497.51 L199.87,498.27 L199.88,499.01 L199.89,499.73 L199.91,500.44 L199.92,501.14 L199.94,501.84 L199.95,502.54 L199.97,503.25 L199.99,503.95 L200.00,504.65 L200.02,505.35 L200.03,506.05 L200.05,506.75 L200.07,507.46 L200.08,508.16 L200.10,508.86 L200.12,509.56 L200.13,510.26 L200.15,510.97 L200.17,511.67 L200.19,512.37 L200.20,513.07 L200.22,513.77 L200.24,514.48 L200.25,515.18 L200.27,515.88 L200.29,516.58 L200.31,517.28 L200.32,517.98 L200.34,518.69 L200.36,519.39 L200.38,520.09 L200.39,520.79 L200.41,521.49 L200.43,522.20 L200.44,522.90 L200.46,523.60 L200.48,524.30 L200.49,525.00 L200.51,525.70 L200.52,526.41 L200.54,527.11 L200.55,527.81 L200.57,528.51 L200.58,529.21 L200.60,529.92 L200.61,530.62 L200.63,531.32 L200.64,532.02 L200.65,532.72 L200.67,533.43 L200.68,534.13 L200.69,534.83 L200.70,535.53 L200.72,536.23 L200.73,536.94 L200.74,537.64 L200.75,538.34 L200.76,539.04 L200.77,539.74 L200.78,540.45 L200.79,541.15 L200.81,541.85 L200.82,542.55 L200.83,543.25 L200.84,543.96 L200.85,544.66 L200.86,545.36 L200.87,546.06 L200.88,546.77 L200.89,547.47 L200.89,548.17 L200.90,548.87 L200.91,549.57 L200.92,550.28 L200.93,550.98 L200.94,551.68 L200.95,552.38 L200.96,553.09 L200.97,553.79 L200.98,554.49 L200.99,555.19 L201.00,555.89 L201.01,556.60 L201.02,557.30 L201.03,558.00 L201.04,558.70 L201.05,559.41 L201.06,560.11 L201.07,560.81 L201.08,561.51 L201.09,562.21 L201.10,562.92 L201.11,563.62 L201.12,564.32 L201.13,565.02 L201.14,565.72 L201.15,566.43 L201.17,567.13 L201.18,567.83 L201.19,568.53 L201.20,569.23 L201.21,569.94 L201.23,570.64 L201.24,571.34 L201.25,572.04 L201.27,572.74 L201.28,573.44 L201.30,574.15 L201.31,574.85 L201.33,575.55 L201.34,576.25 L201.36,576.95 L201.37,577.65 L201.39,578.36 L201.41,579.06 L201.42,579.76 L201.44,580.46 L201.46,581.16 L201.48,581.86 L201.50,582.56 L201.51,583.27 L201.53,583.97 L201.55,584.67 L201.57,585.37 L201.60,586.07 L201.62,586.77 L201.64,587.47 L201.67,588.18 L201.69,588.88 L201.72,589.58 L201.75,590.28 L201.78,590.98 L201.82,591.68 L201.85,592.39 L201.89,593.09 L201.93,593.79 L201.97,594.49 L202.01,595.19 L202.05,595.90 L202.09,596.60 L202.14,597.30 L202.19,598.00 L202.24,598.70 L202.29,599.40 L202.34,600.10 L202.39,600.81 L202.45,601.51 L202.50,602.21 L202.56,602.91 L202.62,603.60 L202.68,604.30 L202.74,605.00 L202.81,605.70 L202.87,606.40 L202.94,607.10 L203.01,607.79 L203.08,608.49 L203.15,609.19 L203.22,609.90 L203.30,610.63 L203.37,611.36 L203.46,612.09 L203.55,612.82 L203.65,613.54 L203.77,614.26 L203.89,614.95 L204.04,615.63 L204.19,616.29 L204.37,616.91 L204.57,617.51 L204.87,618.13 L205.37,618.80 L205.94,619.35 L206.46,619.60 L206.90,619.41 L207.33,618.86 L207.73,618.12 L208.06,617.35 L208.31,616.69 L208.52,616.05 L208.70,615.38 L208.87,614.70 L209.02,614.01 L209.16,613.31 L209.29,612.60 L209.43,611.90 L209.56,611.20 L209.70,610.51 L209.84,609.82 L209.98,609.14 L210.12,608.45 L210.25,607.76 L210.38,607.07 L210.51,606.38 L210.64,605.69 L210.77,605.00 L210.89,604.31 L211.02,603.62 L211.14,602.93 L211.27,602.24 L211.39,601.54 L211.51,600.85 L211.64,600.16 L211.76,599.47 L211.89,598.78 L212.01,598.09 L212.14,597.40 L212.27,596.71 L212.40,596.02 L212.53,595.33 L212.67,594.64 L212.80,593.95 L212.94,593.26 L213.07,592.57 L213.21,591.88 L213.35,591.20 L213.48,590.51 L213.62,589.82 L213.76,589.13 L213.90,588.44 L214.04,587.75 L214.18,587.07 L214.32,586.38 L214.45,585.69 L214.59,585.00 L214.73,584.31 L214.87,583.63 L215.01,582.94 L215.15,582.25 L215.29,581.56 L215.43,580.87 L215.57,580.18 L215.71,579.50 L215.85,578.81 L216.00,578.12 L216.15,577.43 L216.30,576.75 L216.44,576.06 L216.59,575.37 L216.74,574.69 L216.89,574.00 L217.03,573.31 L217.17,572.62 L217.31,571.93 L217.45,571.25 L217.58,570.56 L217.70,569.87 L217.83,569.18 L217.94,568.49 L218.05,567.79 L218.16,567.10 L218.26,566.41 L218.36,565.71 L218.46,565.02 L218.55,564.33 L218.64,563.63 L218.73,562.93 L218.82,562.24 L218.90,561.54 L218.99,560.84 L219.07,560.15 L219.15,559.45 L219.23,558.75 L219.31,558.05 L219.38,557.35 L219.46,556.65 L219.54,555.96 L219.61,555.26 L219.69,554.56 L219.77,553.86 L219.84,553.16 L219.92,552.46 L220.00,551.77 L220.08,551.07 L220.16,550.37 L220.24,549.67 L220.32,548.98 L220.40,548.28 L220.48,547.58 L220.56,546.88 L220.64,546.19 L220.72,545.49 L220.80,544.79 L220.88,544.09 L220.96,543.40 L221.04,542.70 L221.12,542.00 L221.20,541.30 L221.28,540.61 L221.35,539.91 L221.43,539.21 L221.51,538.51 L221.59,537.81 L221.67,537.12 L221.74,536.42 L221.82,535.72 L221.90,535.02 L221.97,534.33 L222.05,533.63 L222.12,532.93 L222.20,532.23 L222.27,531.53 L222.34,530.83 L222.41,530.14 L222.49,529.44 L222.56,528.74 L222.63,528.04 L222.70,527.34 L222.77,526.64 L222.85,525.95 L222.92,525.25 L223.00,524.55 L223.07,523.85 L223.15,523.15 L223.23,522.46 L223.31,521.76 L223.39,521.06 L223.48,520.37 L223.56,519.67 L223.64,518.97 L223.73,518.27 L223.81,517.58 L223.90,516.88 L223.98,516.18 L224.07,515.48 L224.16,514.79 L224.25,514.09 L224.35,513.39 L224.44,512.70 L224.54,512.00 L224.64,511.31 L224.74,510.61 L224.85,509.92 L224.96,509.23 L225.08,508.54 L225.20,507.85 L225.32,507.16 L225.45,506.47 L225.59,505.78 L225.74,505.09 L225.89,504.41 L226.04,503.72 L226.20,503.04 L226.36,502.35 L226.52,501.67 L226.68,500.98 L226.85,500.30 L227.02,499.62 L227.19,498.94 L227.36,498.26 L227.53,497.58 L227.70,496.90 L227.88,496.22 L228.06,495.53 L228.24,494.85 L228.42,494.17 L228.61,493.49 L228.80,492.82 L228.99,492.14 L229.20,491.47 L229.40,490.80 L229.62,490.13 L229.84,489.47 L230.06,488.81 L230.30,488.15 L230.54,487.49 L230.80,486.84 L231.06,486.18 L231.34,485.53 L231.62,484.89 L231.92,484.25 L232.22,483.61 L232.54,482.99 L232.86,482.37 L233.20,481.76 L233.56,481.16 L233.94,480.57 L234.34,479.99 L234.74,479.41 L235.16,478.84 L235.57,478.27 L235.99,477.71 L236.42,477.16 L236.86,476.61 L237.31,476.06 L237.76,475.53 L238.22,474.99 L238.69,474.47 L239.16,473.95 L239.63,473.43 L240.11,472.91 L240.59,472.40 L241.08,471.89 L241.59,471.39 L242.10,470.92 L242.62,470.46 L243.17,470.03 L243.72,469.60 L244.30,469.19 L244.88,468.79 L245.47,468.40 L246.07,468.03 L246.68,467.68 L247.29,467.34 L247.91,467.02 L248.54,466.71 L249.17,466.41 L249.82,466.12 L250.46,465.84 L251.12,465.57 L251.77,465.31 L252.43,465.06 L253.08,464.83 L253.75,464.60 L254.42,464.39 L255.09,464.18 L255.76,463.98 L256.44,463.78 L257.12,463.60 L257.79,463.41 L258.47,463.23 L259.15,463.05 L259.83,462.87 L260.51,462.70 L261.19,462.53 L261.87,462.36 L262.55,462.20 L263.24,462.04 L263.92,461.89 L264.61,461.74 L265.30,461.60" fill="none" stroke="#f0141e" stroke-width="1.1" stroke-linejoin="round" stroke-linecap="butt" />
<path d="M193.70,456.00 L199.40,456.00" fill="none" stroke="#f0141e" stroke-width="1.7" stroke-linejoin="round" stroke-linecap="butt" />
<text x="180.0" y="397.3" font-size="28" font-weight="bold" font-family="Liberation Sans, sans-serif">c</text>
<text transform="translate(194.9,427.7) scale(1.09,1)" font-size="13.3" font-weight="bold" font-family="Liberation Sans, sans-serif">G (1ms)</text>
<rect x="197.95" y="433.0" width="2.1" height="18.6" fill="#000"/>
<rect x="226.2" y="621.5" width="33.3" height="3.4" fill="#000"/>
<rect x="260.2" y="591.2" width="2.9" height="27.2" fill="#000"/>
<text x="266.8" y="611" font-size="16.5" font-family="Liberation Sans, sans-serif">100pA</text>
<text x="225.3" y="643" font-size="16.5" font-family="Liberation Sans, sans-serif">20ms</text>
<text x="151.6" y="691.5" font-size="27.4" font-weight="bold" font-family="Liberation Sans, sans-serif">GluA1/2</text>
<path d="M364.20,454.10 L364.20,454.80 L364.20,455.50 L364.21,456.20 L364.21,456.91 L364.21,457.61 L364.21,458.31 L364.22,459.01 L364.22,459.71 L364.22,460.41 L364.23,461.11 L364.23,461.82 L364.23,462.52 L364.24,463.22 L364.24,463.92 L364.24,464.62 L364.25,465.32 L364.25,466.02 L364.26,466.72 L364.26,467.43 L364.27,468.13 L364.27,468.83 L364.28,469.53 L364.28,470.23 L364.29,470.93 L364.29,471.63 L364.30,472.34 L364.31,473.04 L364.31,473.74 L364.32,474.44 L364.32,475.14 L364.33,475.84 L364.34,476.54 L364.34,477.24 L364.35,477.95 L364.36,478.65 L364.36,479.35 L364.37,480.05 L364.38,480.75 L364.39,481.45 L364.39,482.15 L364.40,482.86 L364.41,483.56 L364.42,484.26 L364.42,484.96 L364.43,485.66 L364.44,486.36 L364.45,487.06 L364.45,487.76 L364.46,488.47 L364.47,489.17 L364.48,489.87 L364.49,490.57 L364.49,491.27 L364.50,491.97 L364.51,492.67 L364.52,493.37 L364.53,494.08 L364.54,494.78 L364.54,495.48 L364.55,496.18 L364.56,496.88 L364.57,497.58 L364.58,498.28 L364.59,498.98 L364.60,499.69 L364.60,500.39 L364.61,501.09 L364.62,501.79 L364.63,502.49 L364.65,503.19 L364.66,503.89 L364.67,504.59 L364.68,505.30 L364.69,506.00 L364.71,506.70 L364.72,507.40 L364.73,508.10 L364.75,508.80 L364.76,509.50 L364.78,510.20 L364.79,510.91 L364.81,511.61 L364.82,512.31 L364.84,513.01 L364.85,513.71 L364.87,514.41 L364.88,515.11 L364.90,515.81 L364.92,516.52 L364.93,517.22 L364.95,517.92 L364.96,518.62 L364.98,519.32 L365.00,520.02 L365.01,520.72 L365.03,521.42 L365.05,522.12 L365.06,522.83 L365.08,523.53 L365.09,524.23 L365.11,524.93 L365.12,525.63 L365.14,526.33 L365.15,527.03 L365.17,527.73 L365.18,528.44 L365.20,529.14 L365.21,529.84 L365.22,530.54 L365.24,531.24 L365.25,531.94 L365.26,532.64 L365.27,533.34 L365.29,534.05 L365.30,534.75 L365.31,535.45 L365.32,536.15 L365.33,536.85 L365.34,537.55 L365.35,538.25 L365.36,538.95 L365.36,539.66 L365.37,540.36 L365.38,541.06 L365.39,541.76 L365.40,542.46 L365.41,543.16 L365.41,543.86 L365.42,544.57 L365.43,545.27 L365.44,545.97 L365.44,546.67 L365.45,547.37 L365.46,548.07 L365.46,548.77 L365.47,549.48 L365.48,550.18 L365.48,550.88 L365.49,551.58 L365.49,552.28 L365.50,552.98 L365.51,553.68 L365.51,554.39 L365.52,555.09 L365.53,555.79 L365.53,556.49 L365.54,557.19 L365.54,557.89 L365.55,558.59 L365.56,559.30 L365.56,560.00 L365.57,560.70 L365.57,561.40 L365.58,562.10 L365.59,562.80 L365.59,563.50 L365.60,564.21 L365.61,564.91 L365.61,565.61 L365.62,566.31 L365.63,567.01 L365.63,567.71 L365.64,568.41 L365.65,569.12 L365.66,569.82 L365.66,570.52 L365.67,571.22 L365.68,571.92 L365.69,572.62 L365.70,573.32 L365.70,574.02 L365.71,574.73 L365.72,575.43 L365.73,576.13 L365.74,576.83 L365.75,577.53 L365.76,578.23 L365.77,578.93 L365.78,579.63 L365.79,580.33 L365.81,581.04 L365.82,581.74 L365.83,582.44 L365.84,583.14 L365.85,583.84 L365.87,584.54 L365.88,585.24 L365.89,585.94 L365.91,586.64 L365.93,587.34 L365.94,588.04 L365.96,588.75 L365.98,589.45 L366.01,590.15 L366.03,590.85 L366.06,591.55 L366.09,592.25 L366.11,592.95 L366.14,593.65 L366.18,594.35 L366.21,595.05 L366.24,595.75 L366.28,596.45 L366.31,597.15 L366.35,597.85 L366.39,598.55 L366.42,599.25 L366.46,599.95 L366.50,600.66 L366.54,601.36 L366.58,602.06 L366.62,602.76 L366.66,603.46 L366.71,604.16 L366.75,604.86 L366.79,605.56 L366.83,606.26 L366.87,606.96 L366.92,607.66 L366.96,608.36 L367.00,609.06 L367.04,609.76 L367.08,610.46 L367.12,611.16 L367.16,611.86 L367.20,612.56 L367.24,613.26 L367.28,613.96 L367.32,614.66 L367.36,615.36 L367.39,616.06 L367.43,616.76 L367.47,617.46 L367.50,618.17 L367.54,618.87 L367.57,619.57 L367.61,620.27 L367.64,620.97 L367.68,621.67 L367.71,622.37 L367.75,623.07 L367.78,623.77 L367.82,624.47 L367.86,625.18 L367.90,625.88 L367.94,626.58 L367.98,627.28 L368.02,627.98 L368.06,628.68 L368.10,629.38 L368.15,630.08 L368.19,630.78 L368.24,631.48 L368.29,632.18 L368.34,632.87 L368.40,633.57 L368.45,634.27 L368.51,634.97 L368.57,635.67 L368.63,636.36 L368.70,637.06 L368.77,637.77 L368.85,638.47 L368.93,639.17 L369.02,639.87 L369.13,640.56 L369.25,641.25 L369.38,641.93 L369.57,642.73 L369.83,643.50 L370.08,643.66 L370.33,643.15 L370.58,642.32 L370.80,641.51 L370.99,640.84 L371.17,640.16 L371.34,639.48 L371.50,638.79 L371.65,638.11 L371.78,637.42 L371.90,636.73 L372.00,636.04 L372.09,635.35 L372.18,634.65 L372.27,633.96 L372.35,633.26 L372.43,632.57 L372.50,631.87 L372.57,631.17 L372.64,630.47 L372.70,629.78 L372.76,629.08 L372.82,628.38 L372.88,627.68 L372.94,626.98 L373.00,626.27 L373.06,625.57 L373.12,624.87 L373.18,624.17 L373.24,623.47 L373.31,622.77 L373.37,622.07 L373.44,621.38 L373.51,620.68 L373.59,619.98 L373.67,619.28 L373.75,618.59 L373.83,617.89 L373.91,617.19 L374.00,616.50 L374.08,615.80 L374.16,615.10 L374.25,614.41 L374.34,613.71 L374.42,613.02 L374.51,612.32 L374.60,611.62 L374.69,610.93 L374.78,610.23 L374.87,609.54 L374.97,608.84 L375.06,608.15 L375.15,607.45 L375.25,606.76 L375.34,606.06 L375.44,605.37 L375.53,604.67 L375.63,603.98 L375.73,603.28 L375.83,602.59 L375.93,601.90 L376.04,601.20 L376.14,600.51 L376.25,599.82 L376.36,599.12 L376.46,598.43 L376.57,597.74 L376.68,597.05 L376.79,596.35 L376.90,595.66 L377.01,594.97 L377.12,594.27 L377.24,593.58 L377.35,592.89 L377.46,592.20 L377.57,591.50 L377.67,590.81 L377.78,590.12 L377.89,589.42 L378.00,588.73 L378.10,588.04 L378.20,587.34 L378.31,586.65 L378.41,585.96 L378.51,585.26 L378.61,584.57 L378.70,583.87 L378.80,583.18 L378.90,582.48 L379.00,581.79 L379.10,581.10 L379.20,580.40 L379.29,579.71 L379.39,579.01 L379.49,578.32 L379.58,577.62 L379.68,576.93 L379.77,576.23 L379.87,575.54 L379.96,574.84 L380.06,574.15 L380.15,573.45 L380.24,572.76 L380.33,572.06 L380.42,571.36 L380.51,570.67 L380.60,569.97 L380.68,569.28 L380.77,568.58 L380.85,567.89 L380.94,567.19 L381.02,566.49 L381.10,565.80 L381.18,565.10 L381.26,564.40 L381.34,563.71 L381.42,563.01 L381.50,562.31 L381.58,561.62 L381.66,560.92 L381.73,560.22 L381.81,559.52 L381.89,558.83 L381.96,558.13 L382.03,557.43 L382.11,556.73 L382.18,556.04 L382.26,555.34 L382.33,554.64 L382.40,553.94 L382.47,553.25 L382.54,552.55 L382.61,551.85 L382.68,551.15 L382.75,550.46 L382.82,549.76 L382.89,549.06 L382.96,548.36 L383.02,547.66 L383.09,546.96 L383.15,546.27 L383.21,545.57 L383.28,544.87 L383.34,544.17 L383.40,543.47 L383.46,542.77 L383.52,542.07 L383.58,541.37 L383.65,540.68 L383.71,539.98 L383.77,539.28 L383.84,538.58 L383.91,537.88 L383.97,537.18 L384.04,536.49 L384.12,535.79 L384.19,535.09 L384.27,534.40 L384.34,533.70 L384.42,533.00 L384.50,532.30 L384.58,531.61 L384.67,530.91 L384.75,530.21 L384.84,529.52 L384.92,528.82 L385.01,528.13 L385.10,527.43 L385.20,526.73 L385.29,526.04 L385.39,525.35 L385.49,524.65 L385.59,523.96 L385.69,523.26 L385.80,522.57 L385.91,521.88 L386.02,521.19 L386.13,520.50 L386.25,519.81 L386.37,519.11 L386.50,518.42 L386.63,517.73 L386.75,517.04 L386.88,516.36 L387.02,515.67 L387.15,514.98 L387.29,514.29 L387.42,513.60 L387.56,512.91 L387.70,512.22 L387.83,511.54 L387.97,510.85 L388.11,510.16 L388.25,509.47 L388.38,508.78 L388.52,508.10 L388.66,507.41 L388.80,506.72 L388.93,506.03 L389.07,505.35 L389.22,504.66 L389.36,503.97 L389.50,503.28 L389.65,502.60 L389.79,501.91 L389.94,501.23 L390.09,500.54 L390.24,499.86 L390.40,499.17 L390.55,498.49 L390.71,497.81 L390.87,497.12 L391.04,496.44 L391.21,495.76 L391.37,495.08 L391.55,494.40 L391.72,493.72 L391.90,493.04 L392.08,492.36 L392.26,491.68 L392.44,491.00 L392.63,490.33 L392.83,489.65 L393.03,488.98 L393.23,488.31 L393.43,487.64 L393.65,486.97 L393.86,486.31 L394.09,485.65 L394.31,484.98 L394.55,484.32 L394.79,483.66 L395.04,483.00 L395.29,482.34 L395.55,481.69 L395.82,481.04 L396.09,480.39 L396.38,479.75 L396.66,479.11 L396.96,478.48 L397.25,477.85 L397.56,477.21 L397.87,476.57 L398.19,475.93 L398.52,475.29 L398.86,474.67 L399.22,474.05 L399.58,473.45 L399.96,472.87 L400.36,472.30 L400.77,471.76 L401.21,471.24 L401.68,470.74 L402.19,470.25 L402.72,469.77 L403.27,469.32 L403.84,468.88 L404.41,468.47 L404.98,468.08 L405.57,467.71 L406.17,467.36 L406.78,467.02 L407.41,466.69 L408.04,466.38 L408.68,466.07 L409.31,465.76 L409.95,465.46 L410.58,465.17 L411.22,464.87 L411.86,464.58 L412.50,464.29 L413.15,464.01 L413.79,463.74 L414.44,463.48 L415.10,463.22 L415.75,462.98 L416.41,462.74 L417.07,462.50 L417.74,462.25 L418.40,462.01 L419.07,461.78 L419.74,461.55 L420.41,461.34 L421.09,461.14 L421.77,460.96 L422.45,460.80 L423.13,460.67 L423.81,460.57 L424.50,460.48 L425.19,460.39 L425.89,460.31 L426.59,460.24 L427.29,460.17 L427.99,460.11 L428.69,460.06 L429.39,460.01 L430.10,459.96 L430.80,459.93 L431.50,459.90 L432.20,459.87 L432.90,459.85 L433.60,459.83 L434.30,459.82 L435.01,459.81 L435.71,459.79 L436.41,459.78 L437.11,459.76 L437.81,459.75 L438.51,459.72 L439.21,459.70 L439.91,459.67 L440.61,459.63 L441.31,459.58 L442.01,459.52 L442.71,459.46 L443.41,459.40 L444.11,459.33 L444.80,459.26 L445.50,459.18 L446.20,459.10" fill="none" stroke="#1c1c1c" stroke-width="1.1" stroke-linejoin="round" stroke-linecap="butt" />
<path d="M356.30,454.10 L357.14,454.10 L358.04,454.10 L358.97,454.10 L359.89,454.10 L360.77,454.10 L361.58,454.10 L362.27,454.10 L362.81,454.10 L363.16,454.10 L363.30,454.10 L363.32,454.12 L363.34,454.19 L363.36,454.29 L363.37,454.44 L363.39,454.62 L363.41,454.84 L363.42,455.10 L363.44,455.40 L363.45,455.73 L363.46,456.09 L363.48,456.49 L363.49,456.91 L363.50,457.37 L363.51,457.86 L363.52,458.38 L363.53,458.93 L363.54,459.50 L363.55,460.11 L363.56,460.73 L363.57,461.38 L363.57,462.05 L363.58,462.75 L363.59,463.47 L363.60,464.20 L363.60,464.96 L363.61,465.73 L363.61,466.52 L363.62,467.33 L363.62,468.16 L363.63,468.99 L363.63,469.84 L363.64,470.71 L363.64,471.58 L363.65,472.47 L363.65,473.36 L363.65,474.26 L363.66,475.18 L363.66,476.09 L363.67,477.01 L363.67,477.94 L363.67,478.87 L363.68,479.81 L363.68,480.74 L363.68,481.68 L363.69,482.61 L363.69,483.54 L363.69,484.48 L363.70,485.40 L363.70,486.33 L363.71,487.24 L363.71,488.16 L363.72,489.06 L363.72,489.96 L363.72,490.84 L363.73,491.72 L363.73,492.59 L363.74,493.44 L363.75,494.28 L363.75,495.11 L363.76,495.92 L363.77,496.71 L363.77,497.49 L363.78,498.25 L363.79,498.99 L363.80,499.71 L363.81,500.41 L363.81,501.12 L363.82,501.82 L363.83,502.52 L363.84,503.22 L363.85,503.92 L363.86,504.62 L363.87,505.33 L363.88,506.03 L363.89,506.73 L363.90,507.43 L363.90,508.13 L363.91,508.83 L363.92,509.53 L363.93,510.24 L363.94,510.94 L363.95,511.64 L363.96,512.34 L363.97,513.04 L363.98,513.74 L363.99,514.44 L364.00,515.15 L364.01,515.85 L364.02,516.55 L364.03,517.25 L364.04,517.95 L364.05,518.65 L364.06,519.35 L364.07,520.06 L364.08,520.76 L364.09,521.46 L364.10,522.16 L364.11,522.86 L364.12,523.56 L364.13,524.27 L364.14,524.97 L364.15,525.67 L364.16,526.37 L364.17,527.07 L364.19,527.77 L364.20,528.47 L364.21,529.18 L364.22,529.88 L364.23,530.58 L364.24,531.28 L364.25,531.98 L364.26,532.68 L364.27,533.38 L364.29,534.09 L364.30,534.79 L364.31,535.49 L364.32,536.19 L364.33,536.89 L364.34,537.59 L364.35,538.29 L364.36,539.00 L364.38,539.70 L364.39,540.40 L364.40,541.10 L364.41,541.80 L364.42,542.50 L364.43,543.20 L364.44,543.91 L364.45,544.61 L364.46,545.31 L364.47,546.01 L364.49,546.71 L364.50,547.41 L364.51,548.12 L364.52,548.82 L364.53,549.52 L364.54,550.22 L364.55,550.92 L364.56,551.62 L364.57,552.33 L364.59,553.03 L364.60,553.73 L364.61,554.43 L364.62,555.13 L364.63,555.83 L364.64,556.53 L364.65,557.24 L364.67,557.94 L364.68,558.64 L364.69,559.34 L364.70,560.04 L364.72,560.74 L364.73,561.45 L364.74,562.15 L364.75,562.85 L364.77,563.55 L364.78,564.25 L364.79,564.95 L364.81,565.65 L364.82,566.36 L364.83,567.06 L364.85,567.76 L364.86,568.46 L364.88,569.16 L364.89,569.86 L364.91,570.56 L364.92,571.27 L364.94,571.97 L364.95,572.67 L364.97,573.37 L364.98,574.07 L365.00,574.77 L365.01,575.47 L365.03,576.17 L365.05,576.88 L365.07,577.58 L365.08,578.28 L365.10,578.98 L365.12,579.68 L365.14,580.38 L365.16,581.08 L365.17,581.78 L365.19,582.49 L365.21,583.19 L365.23,583.89 L365.25,584.59 L365.27,585.29 L365.29,585.99 L365.31,586.69 L365.34,587.39 L365.36,588.09 L365.38,588.79 L365.41,589.50 L365.44,590.20 L365.46,590.90 L365.49,591.60 L365.52,592.30 L365.55,593.00 L365.58,593.70 L365.61,594.40 L365.64,595.10 L365.67,595.80 L365.71,596.51 L365.74,597.21 L365.78,597.91 L365.81,598.61 L365.85,599.31 L365.89,600.01 L365.92,600.71 L365.96,601.41 L366.00,602.11 L366.04,602.81 L366.09,603.51 L366.13,604.21 L366.17,604.91 L366.21,605.62 L366.26,606.32 L366.30,607.02 L366.35,607.72 L366.39,608.42 L366.44,609.12 L366.49,609.82 L366.53,610.52 L366.58,611.22 L366.63,611.91 L366.68,612.61 L366.73,613.31 L366.78,614.01 L366.83,614.71 L366.88,615.41 L366.94,616.11 L366.99,616.81 L367.05,617.51 L367.11,618.21 L367.17,618.91 L367.23,619.61 L367.30,620.31 L367.37,621.01 L367.44,621.71 L367.51,622.41 L367.59,623.11 L367.66,623.80 L367.74,624.50 L367.83,625.20 L367.92,625.89 L368.01,626.59 L368.10,627.28 L368.20,627.97 L368.30,628.73 L368.42,629.59 L368.54,630.50 L368.68,631.40 L368.82,632.24 L368.97,632.97 L369.13,633.52 L369.30,633.84 L369.47,633.87 L369.65,633.51 L369.85,632.86 L370.07,632.03 L370.29,631.14 L370.50,630.31 L370.72,629.63 L370.96,628.96 L371.20,628.30 L371.46,627.64 L371.71,626.98 L371.96,626.32 L372.19,625.66 L372.41,625.00 L372.61,624.33 L372.79,623.66 L372.94,622.98 L373.08,622.30 L373.22,621.62 L373.36,620.94 L373.49,620.25 L373.61,619.56 L373.73,618.87 L373.84,618.18 L373.95,617.49 L374.06,616.80 L374.16,616.10 L374.26,615.41 L374.36,614.71 L374.46,614.01 L374.55,613.31 L374.65,612.62 L374.74,611.92 L374.83,611.22 L374.92,610.52 L375.01,609.82 L375.11,609.12 L375.20,608.42 L375.30,607.73 L375.39,607.03 L375.49,606.33 L375.59,605.64 L375.69,604.94 L375.80,604.25 L375.90,603.55 L376.01,602.86 L376.11,602.17 L376.21,601.47 L376.32,600.78 L376.42,600.09 L376.52,599.39 L376.63,598.70 L376.73,598.00 L376.83,597.31 L376.93,596.62 L377.04,595.92 L377.14,595.23 L377.24,594.53 L377.34,593.84 L377.44,593.14 L377.54,592.45 L377.65,591.76 L377.75,591.06 L377.85,590.37 L377.95,589.67 L378.06,588.98 L378.16,588.29 L378.26,587.59 L378.37,586.90 L378.47,586.20 L378.57,585.51 L378.68,584.82 L378.78,584.12 L378.89,583.43 L379.00,582.74 L379.11,582.04 L379.21,581.35 L379.32,580.66 L379.43,579.96 L379.54,579.27 L379.65,578.58 L379.76,577.88 L379.87,577.19 L379.98,576.50 L380.08,575.80 L380.19,575.11 L380.30,574.42 L380.40,573.72 L380.51,573.03 L380.61,572.34 L380.72,571.64 L380.82,570.95 L380.92,570.25 L381.02,569.56 L381.11,568.87 L381.21,568.17 L381.30,567.48 L381.40,566.78 L381.49,566.09 L381.58,565.39 L381.66,564.69 L381.75,564.00 L381.84,563.30 L381.92,562.61 L382.01,561.91 L382.09,561.21 L382.17,560.52 L382.25,559.82 L382.34,559.12 L382.42,558.43 L382.50,557.73 L382.58,557.03 L382.66,556.33 L382.74,555.64 L382.82,554.94 L382.90,554.24 L382.98,553.55 L383.06,552.85 L383.14,552.15 L383.23,551.46 L383.31,550.76 L383.39,550.06 L383.48,549.37 L383.56,548.67 L383.64,547.97 L383.72,547.27 L383.80,546.58 L383.88,545.88 L383.96,545.18 L384.04,544.49 L384.12,543.79 L384.20,543.09 L384.28,542.39 L384.36,541.70 L384.44,541.00 L384.52,540.30 L384.60,539.61 L384.69,538.91 L384.78,538.21 L384.86,537.52 L384.95,536.82 L385.05,536.13 L385.14,535.43 L385.24,534.74 L385.34,534.05 L385.44,533.35 L385.54,532.66 L385.64,531.96 L385.75,531.27 L385.86,530.58 L385.97,529.88 L386.08,529.19 L386.20,528.50 L386.31,527.81 L386.43,527.11 L386.55,526.42 L386.67,525.73 L386.79,525.04 L386.92,524.35 L387.04,523.66 L387.17,522.97 L387.29,522.28 L387.42,521.59 L387.55,520.90 L387.68,520.21 L387.82,519.52 L387.95,518.84 L388.09,518.15 L388.23,517.46 L388.37,516.77 L388.52,516.09 L388.66,515.40 L388.81,514.71 L388.96,514.03 L389.11,513.34 L389.26,512.66 L389.41,511.97 L389.56,511.29 L389.72,510.60 L389.87,509.92 L390.03,509.23 L390.18,508.55 L390.34,507.87 L390.50,507.18 L390.65,506.50 L390.81,505.81 L390.96,505.13 L391.12,504.44 L391.28,503.76 L391.44,503.07 L391.60,502.39 L391.76,501.71 L391.92,501.02 L392.09,500.34 L392.26,499.66 L392.43,498.98 L392.61,498.30 L392.79,497.62 L392.97,496.95 L393.16,496.27 L393.35,495.60 L393.55,494.93 L393.75,494.26 L393.96,493.59 L394.18,492.92 L394.40,492.26 L394.63,491.59 L394.86,490.93 L395.10,490.26 L395.34,489.60 L395.59,488.94 L395.84,488.29 L396.10,487.64 L396.36,486.99 L396.63,486.34 L396.90,485.70 L397.18,485.06 L397.47,484.42 L397.76,483.78 L398.06,483.14 L398.37,482.51 L398.69,481.88 L399.01,481.26 L399.34,480.63 L399.68,480.02 L400.02,479.40 L400.37,478.79 L400.72,478.19 L401.08,477.60 L401.46,477.00 L401.84,476.41 L402.23,475.82 L402.62,475.24 L403.03,474.67 L403.45,474.10 L403.88,473.54 L404.31,472.99 L404.76,472.45 L405.21,471.92 L405.67,471.40 L406.15,470.88 L406.65,470.37 L407.15,469.87 L407.66,469.39 L408.19,468.92 L408.72,468.48 L409.27,468.06 L409.83,467.65 L410.41,467.25 L411.00,466.86 L411.60,466.48 L412.20,466.12 L412.81,465.76 L413.43,465.42 L414.04,465.08 L414.66,464.76 L415.28,464.43 L415.91,464.10 L416.54,463.78 L417.18,463.47 L417.82,463.17 L418.47,462.89 L419.12,462.63 L419.77,462.40 L420.43,462.19 L421.10,462.00 L421.77,461.82 L422.45,461.65 L423.13,461.48 L423.82,461.32 L424.51,461.17 L425.21,461.04 L425.90,460.91 L426.60,460.80 L427.30,460.70 L427.99,460.62 L428.68,460.55 L429.38,460.49 L430.08,460.43 L430.78,460.38 L431.48,460.33 L432.18,460.29 L432.88,460.25 L433.58,460.21 L434.28,460.17 L434.98,460.13 L435.69,460.10 L436.39,460.06 L437.09,460.03 L437.79,459.99 L438.49,459.95 L439.19,459.92 L439.89,459.88 L440.59,459.85 L441.29,459.81 L441.99,459.78 L442.70,459.75 L443.40,459.72 L444.10,459.69 L444.80,459.66 L445.50,459.63 L446.20,459.60" fill="none" stroke="#f0141e" stroke-width="1.1" stroke-linejoin="round" stroke-linecap="butt" />
<path d="M356.30,454.40 L363.80,454.40" fill="none" stroke="#f0141e" stroke-width="1.7" stroke-linejoin="round" stroke-linecap="butt" />
<text x="343.8" y="397.3" font-size="28" font-weight="bold" font-family="Liberation Sans, sans-serif">d</text>
<text transform="translate(359.9,427.7) scale(1.1,1)" font-size="13.3" font-weight="bold" font-family="Liberation Sans, sans-serif">G (1ms)</text>
<rect x="362.9" y="434.1" width="1.9" height="17.5" fill="#000"/>
<rect x="388.2" y="613.9" width="33.7" height="3.2" fill="#000"/>
<rect x="423.0" y="600.2" width="3.2" height="12" fill="#000"/>
<text x="430.0" y="612.6" font-size="16.5" font-family="Liberation Sans, sans-serif">100pA</text>
<text x="386.6" y="635.2" font-size="16.5" font-family="Liberation Sans, sans-serif">20ms</text>
<text x="329.6" y="691.5" font-size="27.4" font-weight="bold" font-family="Liberation Sans, sans-serif">GluA2</text>
<path d="M525.20,455.70 L525.20,456.40 L525.20,457.10 L525.20,457.80 L525.20,458.51 L525.20,459.21 L525.20,459.91 L525.20,460.61 L525.20,461.31 L525.20,462.01 L525.21,462.71 L525.21,463.42 L525.21,464.12 L525.21,464.82 L525.21,465.52 L525.21,466.22 L525.21,466.92 L525.21,467.63 L525.21,468.33 L525.21,469.03 L525.22,469.73 L525.22,470.43 L525.22,471.13 L525.22,471.83 L525.22,472.54 L525.22,473.24 L525.22,473.94 L525.23,474.64 L525.23,475.34 L525.23,476.04 L525.23,476.74 L525.23,477.45 L525.23,478.15 L525.24,478.85 L525.24,479.55 L525.24,480.25 L525.24,480.95 L525.24,481.66 L525.25,482.36 L525.25,483.06 L525.25,483.76 L525.25,484.46 L525.25,485.16 L525.26,485.86 L525.26,486.57 L525.26,487.27 L525.26,487.97 L525.26,488.67 L525.27,489.37 L525.27,490.07 L525.27,490.77 L525.27,491.48 L525.27,492.18 L525.28,492.88 L525.28,493.58 L525.28,494.28 L525.28,494.98 L525.29,495.69 L525.29,496.39 L525.29,497.09 L525.29,497.79 L525.30,498.49 L525.30,499.19 L525.30,499.89 L525.30,500.60 L525.30,501.30 L525.31,502.00 L525.31,502.70 L525.31,503.40 L525.31,504.10 L525.32,504.80 L525.32,505.51 L525.32,506.21 L525.33,506.91 L525.33,507.61 L525.33,508.31 L525.33,509.01 L525.34,509.72 L525.34,510.42 L525.34,511.12 L525.35,511.82 L525.35,512.52 L525.35,513.22 L525.36,513.92 L525.36,514.63 L525.37,515.33 L525.37,516.03 L525.37,516.73 L525.38,517.43 L525.38,518.13 L525.39,518.83 L525.39,519.54 L525.39,520.24 L525.40,520.94 L525.40,521.64 L525.41,522.34 L525.41,523.04 L525.42,523.74 L525.42,524.45 L525.43,525.15 L525.43,525.85 L525.44,526.55 L525.44,527.25 L525.45,527.95 L525.45,528.66 L525.46,529.36 L525.46,530.06 L525.47,530.76 L525.47,531.46 L525.48,532.16 L525.48,532.86 L525.49,533.57 L525.49,534.27 L525.50,534.97 L525.51,535.67 L525.51,536.37 L525.52,537.07 L525.52,537.77 L525.53,538.48 L525.54,539.18 L525.55,539.88 L525.55,540.58 L525.56,541.28 L525.57,541.98 L525.58,542.68 L525.58,543.39 L525.59,544.09 L525.60,544.79 L525.61,545.49 L525.62,546.19 L525.63,546.89 L525.63,547.59 L525.64,548.30 L525.65,549.00 L525.66,549.70 L525.67,550.40 L525.68,551.10 L525.69,551.80 L525.70,552.51 L525.71,553.21 L525.72,553.91 L525.73,554.61 L525.74,555.31 L525.76,556.01 L525.77,556.71 L525.78,557.42 L525.79,558.12 L525.80,558.82 L525.81,559.52 L525.83,560.22 L525.84,560.92 L525.85,561.62 L525.86,562.33 L525.88,563.03 L525.89,563.73 L525.90,564.43 L525.92,565.13 L525.93,565.83 L525.94,566.53 L525.96,567.24 L525.97,567.94 L525.99,568.64 L526.00,569.34 L526.02,570.04 L526.03,570.74 L526.04,571.44 L526.06,572.15 L526.08,572.85 L526.09,573.55 L526.11,574.25 L526.12,574.95 L526.14,575.65 L526.15,576.35 L526.17,577.05 L526.19,577.76 L526.20,578.46 L526.22,579.16 L526.24,579.86 L526.26,580.56 L526.27,581.26 L526.29,581.96 L526.31,582.66 L526.33,583.37 L526.34,584.07 L526.36,584.77 L526.38,585.47 L526.40,586.17 L526.42,586.87 L526.44,587.57 L526.46,588.27 L526.49,588.97 L526.51,589.67 L526.54,590.38 L526.56,591.08 L526.59,591.78 L526.62,592.48 L526.65,593.18 L526.68,593.88 L526.72,594.58 L526.75,595.28 L526.78,595.98 L526.82,596.68 L526.85,597.38 L526.89,598.08 L526.92,598.78 L526.96,599.48 L527.00,600.19 L527.03,600.89 L527.07,601.59 L527.11,602.29 L527.15,602.99 L527.18,603.69 L527.22,604.39 L527.26,605.09 L527.29,605.79 L527.33,606.49 L527.37,607.19 L527.40,607.89 L527.44,608.59 L527.47,609.29 L527.51,609.99 L527.54,610.70 L527.57,611.40 L527.61,612.10 L527.64,612.80 L527.67,613.50 L527.70,614.20 L527.72,614.90 L527.75,615.60 L527.78,616.30 L527.81,617.00 L527.83,617.70 L527.86,618.41 L527.88,619.11 L527.91,619.81 L527.93,620.51 L527.96,621.21 L527.98,621.91 L528.00,622.61 L528.03,623.31 L528.05,624.01 L528.07,624.72 L528.10,625.42 L528.12,626.12 L528.15,626.82 L528.17,627.52 L528.19,628.22 L528.22,628.92 L528.24,629.62 L528.27,630.32 L528.30,631.02 L528.32,631.73 L528.35,632.43 L528.38,633.13 L528.41,633.83 L528.44,634.53 L528.47,635.23 L528.50,635.93 L528.53,636.67 L528.56,637.50 L528.58,638.38 L528.61,639.30 L528.63,640.24 L528.66,641.16 L528.69,642.04 L528.73,642.86 L528.77,643.60 L528.81,644.22 L528.86,644.71 L528.92,645.05 L528.98,645.19 L529.09,644.98 L529.28,644.25 L529.50,643.37 L529.71,642.65 L529.96,641.99 L530.20,641.32 L530.38,640.65 L530.47,639.97 L530.55,639.29 L530.62,638.60 L530.68,637.91 L530.74,637.22 L530.79,636.52 L530.84,635.83 L530.89,635.13 L530.93,634.43 L530.96,633.72 L531.00,633.02 L531.03,632.31 L531.06,631.61 L531.09,630.90 L531.12,630.20 L531.15,629.49 L531.18,628.78 L531.21,628.08 L531.25,627.37 L531.29,626.66 L531.33,625.96 L531.37,625.26 L531.42,624.56 L531.48,623.86 L531.54,623.16 L531.60,622.46 L531.67,621.76 L531.74,621.07 L531.82,620.37 L531.89,619.67 L531.97,618.98 L532.06,618.28 L532.14,617.58 L532.23,616.89 L532.32,616.19 L532.41,615.50 L532.50,614.80 L532.60,614.10 L532.69,613.41 L532.79,612.71 L532.89,612.02 L532.99,611.32 L533.09,610.63 L533.19,609.93 L533.29,609.24 L533.38,608.54 L533.48,607.85 L533.58,607.15 L533.68,606.46 L533.78,605.76 L533.88,605.07 L533.97,604.37 L534.07,603.68 L534.17,602.99 L534.27,602.29 L534.37,601.60 L534.48,600.90 L534.58,600.21 L534.68,599.52 L534.79,598.82 L534.90,598.13 L535.00,597.44 L535.11,596.74 L535.22,596.05 L535.32,595.36 L535.43,594.66 L535.54,593.97 L535.64,593.28 L535.75,592.58 L535.86,591.89 L535.96,591.20 L536.07,590.50 L536.17,589.81 L536.28,589.11 L536.38,588.42 L536.48,587.73 L536.58,587.03 L536.68,586.34 L536.78,585.64 L536.88,584.95 L536.97,584.25 L537.07,583.56 L537.16,582.86 L537.26,582.17 L537.35,581.47 L537.45,580.78 L537.54,580.08 L537.64,579.39 L537.73,578.69 L537.82,578.00 L537.91,577.30 L538.01,576.61 L538.10,575.91 L538.19,575.22 L538.28,574.52 L538.37,573.82 L538.46,573.13 L538.55,572.43 L538.65,571.74 L538.74,571.04 L538.83,570.35 L538.92,569.65 L539.01,568.96 L539.10,568.26 L539.19,567.56 L539.28,566.87 L539.37,566.17 L539.46,565.48 L539.55,564.78 L539.64,564.09 L539.73,563.39 L539.82,562.69 L539.91,562.00 L540.00,561.30 L540.09,560.61 L540.18,559.91 L540.27,559.22 L540.36,558.52 L540.45,557.82 L540.54,557.13 L540.63,556.43 L540.72,555.74 L540.81,555.04 L540.90,554.35 L540.99,553.65 L541.08,552.95 L541.17,552.26 L541.26,551.56 L541.35,550.87 L541.44,550.17 L541.53,549.48 L541.61,548.78 L541.70,548.08 L541.79,547.39 L541.88,546.69 L541.97,546.00 L542.06,545.30 L542.15,544.60 L542.24,543.91 L542.33,543.21 L542.42,542.52 L542.51,541.82 L542.61,541.13 L542.70,540.43 L542.80,539.74 L542.89,539.04 L542.99,538.35 L543.09,537.65 L543.19,536.96 L543.29,536.26 L543.38,535.57 L543.48,534.87 L543.58,534.18 L543.69,533.49 L543.79,532.79 L543.89,532.10 L544.00,531.40 L544.10,530.71 L544.21,530.02 L544.32,529.32 L544.43,528.63 L544.54,527.94 L544.66,527.25 L544.77,526.56 L544.89,525.87 L545.01,525.17 L545.14,524.48 L545.26,523.79 L545.39,523.10 L545.51,522.41 L545.64,521.72 L545.78,521.03 L545.91,520.34 L546.05,519.66 L546.18,518.97 L546.33,518.28 L546.47,517.59 L546.61,516.91 L546.76,516.22 L546.91,515.54 L547.06,514.85 L547.22,514.17 L547.38,513.49 L547.54,512.80 L547.70,512.12 L547.87,511.44 L548.04,510.76 L548.21,510.08 L548.39,509.40 L548.57,508.72 L548.75,508.04 L548.94,507.37 L549.13,506.69 L549.33,506.02 L549.53,505.35 L549.74,504.68 L549.95,504.01 L550.16,503.34 L550.38,502.67 L550.59,502.01 L550.81,501.34 L551.02,500.67 L551.23,499.99 L551.44,499.32 L551.66,498.65 L551.88,497.98 L552.10,497.32 L552.32,496.65 L552.56,495.99 L552.80,495.33 L553.05,494.68 L553.30,494.03 L553.57,493.39 L553.84,492.73 L554.12,492.06 L554.40,491.39 L554.70,490.72 L555.00,490.06 L555.32,489.42 L555.66,488.80 L556.02,488.21 L556.39,487.65 L556.79,487.13 L557.23,486.65 L557.72,486.20 L558.27,485.77 L558.85,485.36 L559.46,484.96 L560.08,484.59 L560.71,484.22 L561.33,483.86 L561.93,483.51 L562.54,483.17 L563.16,482.83 L563.78,482.51 L564.41,482.20 L565.05,481.89 L565.69,481.60 L566.33,481.31 L566.97,481.03 L567.61,480.72 L568.26,480.38 L568.90,480.05 L569.56,479.73 L570.21,479.46 L570.88,479.25 L571.54,479.13 L572.22,479.10 L572.89,479.10 L573.58,479.10 L574.26,479.11 L574.95,479.11 L575.65,479.11 L576.34,479.12 L577.04,479.13 L577.75,479.13 L578.45,479.14 L579.16,479.15 L579.87,479.15 L580.58,479.16 L581.29,479.17 L582.00,479.17 L582.71,479.18 L583.42,479.18 L584.13,479.19 L584.84,479.19 L585.54,479.20 L586.25,479.20 L586.95,479.20 L587.66,479.20 L588.36,479.19 L589.06,479.17 L589.76,479.14 L590.46,479.11 L591.16,479.07 L591.86,479.02 L592.56,478.97 L593.26,478.92 L593.96,478.87 L594.66,478.81 L595.36,478.76 L596.06,478.72 L596.76,478.68 L597.46,478.65 L598.17,478.62 L598.87,478.60 L599.57,478.60 L600.27,478.60 L600.97,478.60 L601.67,478.60 L602.37,478.60 L603.07,478.60 L603.77,478.60 L604.48,478.60 L605.18,478.60 L605.88,478.60 L606.58,478.60 L607.28,478.60 L607.98,478.60 L608.68,478.60 L609.39,478.60 L610.09,478.60 L610.79,478.60 L611.49,478.60 L612.19,478.60 L612.89,478.60 L613.60,478.60 L614.30,478.60 L615.00,478.60" fill="none" stroke="#111" stroke-width="1.7" stroke-linejoin="round" stroke-linecap="butt" />
<path d="M561.60,483.90 L566.80,481.30 L572.00,479.40 L587.50,479.40 L599.50,478.90 L615.00,478.80" fill="none" stroke="#000" stroke-width="1.9" stroke-linejoin="round" stroke-linecap="butt" />
<path d="M516.50,455.70 L517.34,455.70 L518.25,455.70 L519.18,455.70 L520.12,455.70 L521.02,455.70 L521.86,455.70 L522.61,455.70 L523.24,455.70 L523.72,455.70 L524.01,455.70 L524.10,455.70 L524.11,455.73 L524.12,455.80 L524.12,455.92 L524.13,456.07 L524.14,456.27 L524.14,456.50 L524.15,456.78 L524.16,457.09 L524.16,457.43 L524.17,457.81 L524.17,458.23 L524.18,458.67 L524.18,459.15 L524.19,459.66 L524.19,460.20 L524.19,460.77 L524.20,461.36 L524.20,461.98 L524.20,462.63 L524.21,463.30 L524.21,463.99 L524.21,464.71 L524.21,465.44 L524.22,466.20 L524.22,466.97 L524.22,467.77 L524.22,468.58 L524.23,469.40 L524.23,470.24 L524.23,471.10 L524.23,471.96 L524.23,472.84 L524.23,473.73 L524.24,474.63 L524.24,475.53 L524.24,476.45 L524.24,477.37 L524.24,478.29 L524.24,479.22 L524.24,480.15 L524.25,481.09 L524.25,482.02 L524.25,482.96 L524.25,483.89 L524.25,484.83 L524.25,485.75 L524.26,486.68 L524.26,487.60 L524.26,488.51 L524.26,489.42 L524.26,490.31 L524.27,491.20 L524.27,492.08 L524.27,492.94 L524.27,493.79 L524.28,494.63 L524.28,495.45 L524.28,496.26 L524.29,497.05 L524.29,497.82 L524.29,498.58 L524.30,499.31 L524.30,500.02 L524.30,500.72 L524.31,501.43 L524.31,502.13 L524.32,502.83 L524.32,503.53 L524.33,504.23 L524.33,504.93 L524.33,505.64 L524.34,506.34 L524.34,507.04 L524.35,507.74 L524.35,508.44 L524.36,509.14 L524.36,509.85 L524.37,510.55 L524.37,511.25 L524.38,511.95 L524.38,512.65 L524.39,513.35 L524.39,514.06 L524.40,514.76 L524.40,515.46 L524.41,516.16 L524.42,516.86 L524.42,517.56 L524.43,518.27 L524.43,518.97 L524.44,519.67 L524.45,520.37 L524.45,521.07 L524.46,521.77 L524.46,522.48 L524.47,523.18 L524.48,523.88 L524.48,524.58 L524.49,525.28 L524.50,525.98 L524.51,526.69 L524.51,527.39 L524.52,528.09 L524.53,528.79 L524.53,529.49 L524.54,530.19 L524.55,530.90 L524.56,531.60 L524.57,532.30 L524.58,533.00 L524.58,533.70 L524.59,534.40 L524.60,535.10 L524.61,535.81 L524.62,536.51 L524.63,537.21 L524.64,537.91 L524.65,538.61 L524.66,539.31 L524.67,540.02 L524.69,540.72 L524.70,541.42 L524.71,542.12 L524.72,542.82 L524.74,543.52 L524.75,544.22 L524.76,544.93 L524.78,545.63 L524.79,546.33 L524.81,547.03 L524.82,547.73 L524.84,548.43 L524.86,549.13 L524.87,549.84 L524.89,550.54 L524.90,551.24 L524.92,551.94 L524.94,552.64 L524.96,553.34 L524.98,554.05 L524.99,554.75 L525.01,555.45 L525.03,556.15 L525.05,556.85 L525.07,557.55 L525.09,558.25 L525.11,558.96 L525.13,559.66 L525.15,560.36 L525.17,561.06 L525.19,561.76 L525.21,562.46 L525.23,563.16 L525.25,563.87 L525.27,564.57 L525.30,565.27 L525.32,565.97 L525.34,566.67 L525.36,567.37 L525.38,568.07 L525.41,568.78 L525.43,569.48 L525.45,570.18 L525.47,570.88 L525.50,571.58 L525.52,572.28 L525.54,572.98 L525.57,573.68 L525.59,574.39 L525.61,575.09 L525.64,575.79 L525.66,576.49 L525.69,577.19 L525.71,577.89 L525.73,578.59 L525.76,579.29 L525.78,580.00 L525.81,580.70 L525.83,581.40 L525.86,582.10 L525.88,582.80 L525.91,583.50 L525.93,584.20 L525.95,584.90 L525.98,585.61 L526.00,586.31 L526.03,587.01 L526.05,587.71 L526.08,588.41 L526.11,589.11 L526.13,589.81 L526.16,590.51 L526.18,591.21 L526.21,591.92 L526.24,592.62 L526.27,593.32 L526.29,594.02 L526.32,594.72 L526.35,595.42 L526.38,596.12 L526.41,596.82 L526.44,597.53 L526.47,598.23 L526.50,598.93 L526.53,599.63 L526.56,600.33 L526.60,601.03 L526.63,601.73 L526.66,602.43 L526.70,603.13 L526.73,603.84 L526.76,604.54 L526.80,605.24 L526.83,605.94 L526.87,606.64 L526.91,607.34 L526.94,608.04 L526.98,608.74 L527.02,609.44 L527.06,610.14 L527.10,610.84 L527.14,611.54 L527.18,612.24 L527.22,612.94 L527.26,613.64 L527.30,614.34 L527.35,615.04 L527.39,615.74 L527.44,616.44 L527.48,617.14 L527.53,617.84 L527.58,618.54 L527.63,619.24 L527.68,619.94 L527.74,620.64 L527.79,621.34 L527.85,622.04 L527.91,622.74 L527.97,623.44 L528.03,624.14 L528.09,624.84 L528.16,625.54 L528.22,626.24 L528.29,626.94 L528.36,627.63 L528.43,628.35 L528.51,629.20 L528.59,630.13 L528.67,631.02 L528.76,631.79 L528.87,632.35 L528.98,632.60 L529.13,632.37 L529.32,631.67 L529.52,630.79 L529.70,629.98 L529.88,629.30 L530.05,628.62 L530.23,627.94 L530.40,627.26 L530.57,626.58 L530.73,625.89 L530.88,625.21 L531.03,624.52 L531.16,623.84 L531.28,623.15 L531.39,622.46 L531.50,621.77 L531.61,621.08 L531.71,620.38 L531.81,619.69 L531.90,618.99 L531.99,618.30 L532.08,617.60 L532.17,616.91 L532.25,616.21 L532.34,615.51 L532.42,614.81 L532.50,614.12 L532.58,613.42 L532.66,612.72 L532.74,612.02 L532.81,611.32 L532.89,610.62 L532.97,609.93 L533.05,609.23 L533.14,608.53 L533.22,607.83 L533.31,607.14 L533.39,606.44 L533.49,605.74 L533.58,605.05 L533.68,604.35 L533.77,603.66 L533.87,602.96 L533.97,602.27 L534.08,601.58 L534.18,600.88 L534.28,600.19 L534.39,599.49 L534.49,598.80 L534.60,598.11 L534.71,597.41 L534.81,596.72 L534.92,596.03 L535.03,595.33 L535.13,594.64 L535.24,593.95 L535.35,593.25 L535.46,592.56 L535.56,591.86 L535.67,591.17 L535.77,590.48 L535.88,589.78 L535.98,589.09 L536.08,588.40 L536.18,587.70 L536.29,587.01 L536.38,586.31 L536.48,585.62 L536.58,584.92 L536.68,584.23 L536.77,583.53 L536.87,582.84 L536.97,582.14 L537.06,581.45 L537.16,580.75 L537.25,580.06 L537.34,579.36 L537.44,578.67 L537.53,577.97 L537.62,577.28 L537.72,576.58 L537.81,575.88 L537.90,575.19 L537.99,574.49 L538.09,573.80 L538.18,573.10 L538.27,572.41 L538.36,571.71 L538.45,571.01 L538.54,570.32 L538.63,569.62 L538.72,568.93 L538.81,568.23 L538.90,567.53 L538.98,566.84 L539.07,566.14 L539.16,565.45 L539.25,564.75 L539.33,564.05 L539.42,563.36 L539.50,562.66 L539.59,561.96 L539.67,561.27 L539.75,560.57 L539.84,559.87 L539.92,559.18 L540.00,558.48 L540.09,557.78 L540.17,557.09 L540.26,556.39 L540.34,555.69 L540.43,555.00 L540.51,554.30 L540.60,553.60 L540.69,552.91 L540.77,552.21 L540.86,551.52 L540.95,550.82 L541.04,550.12 L541.13,549.43 L541.21,548.73 L541.30,548.04 L541.39,547.34 L541.48,546.64 L541.57,545.95 L541.66,545.25 L541.75,544.56 L541.84,543.86 L541.93,543.16 L542.03,542.47 L542.12,541.77 L542.21,541.08 L542.31,540.38 L542.40,539.69 L542.50,538.99 L542.60,538.30 L542.70,537.60 L542.79,536.91 L542.89,536.21 L542.99,535.52 L543.09,534.82 L543.19,534.13 L543.29,533.44 L543.40,532.74 L543.50,532.05 L543.60,531.35 L543.71,530.66 L543.82,529.97 L543.93,529.27 L544.04,528.58 L544.15,527.89 L544.27,527.20 L544.38,526.50 L544.50,525.81 L544.62,525.12 L544.75,524.43 L544.87,523.74 L545.00,523.05 L545.13,522.36 L545.26,521.67 L545.39,520.98 L545.53,520.29 L545.66,519.60 L545.80,518.92 L545.94,518.23 L546.08,517.54 L546.23,516.85 L546.37,516.17 L546.52,515.48 L546.67,514.80 L546.82,514.11 L546.97,513.43 L547.13,512.74 L547.29,512.06 L547.45,511.38 L547.61,510.69 L547.78,510.01 L547.95,509.33 L548.12,508.65 L548.30,507.97 L548.48,507.29 L548.66,506.62 L548.85,505.94 L549.04,505.27 L549.24,504.59 L549.44,503.92 L549.65,503.25 L549.86,502.58 L550.07,501.91 L550.28,501.24 L550.48,500.57 L550.69,499.90 L550.90,499.22 L551.11,498.55 L551.33,497.88 L551.54,497.21 L551.77,496.55 L551.99,495.88 L552.23,495.22 L552.47,494.56 L552.72,493.91 L552.97,493.26 L553.24,492.62 L553.52,491.97 L553.81,491.33 L554.10,490.69 L554.41,490.05 L554.73,489.42 L555.05,488.80 L555.39,488.18 L555.73,487.57 L556.09,486.96 L556.45,486.37 L556.83,485.78 L557.22,485.18 L557.62,484.58 L558.05,483.99 L558.49,483.42 L558.95,482.89 L559.43,482.40 L559.93,481.98 L560.47,481.59 L561.06,481.24 L561.67,480.91 L562.32,480.60 L562.97,480.31 L563.64,480.02 L564.30,479.74 L564.96,479.46 L565.60,479.18 L566.24,478.90 L566.89,478.62 L567.54,478.35 L568.20,478.10 L568.86,477.87 L569.52,477.66 L570.20,477.45 L570.88,477.24 L571.56,477.04 L572.25,476.87 L572.94,476.75 L573.63,476.70 L574.32,476.70 L575.01,476.71 L575.71,476.73 L576.40,476.75 L577.10,476.78 L577.80,476.81 L578.50,476.84 L579.21,476.88 L579.91,476.91 L580.61,476.95 L581.32,476.99 L582.02,477.03 L582.73,477.06 L583.43,477.10 L584.14,477.13 L584.84,477.15 L585.54,477.17 L586.25,477.19 L586.95,477.20 L587.65,477.20 L588.35,477.19 L589.05,477.17 L589.75,477.15 L590.45,477.12 L591.15,477.08 L591.85,477.03 L592.56,476.98 L593.26,476.94 L593.96,476.88 L594.66,476.83 L595.36,476.79 L596.06,476.74 L596.76,476.70 L597.46,476.66 L598.16,476.63 L598.86,476.61 L599.56,476.60 L600.26,476.59 L600.97,476.58 L601.67,476.58 L602.37,476.57 L603.07,476.56 L603.77,476.55 L604.47,476.55 L605.17,476.54 L605.88,476.54 L606.58,476.53 L607.28,476.53 L607.98,476.52 L608.68,476.52 L609.38,476.51 L610.09,476.51 L610.79,476.51 L611.49,476.51 L612.19,476.50 L612.89,476.50 L613.60,476.50 L614.30,476.50 L615.00,476.50" fill="none" stroke="#f0141e" stroke-width="1.0" stroke-linejoin="round" stroke-linecap="butt" />
<path d="M556.50,486.30 L559.90,482.00 L565.10,479.40 L569.40,477.70 L573.70,476.70 L587.50,477.20 L599.50,476.60 L615.00,476.50" fill="none" stroke="#f0141e" stroke-width="1.9" stroke-linejoin="round" stroke-linecap="butt" />
<path d="M516.50,455.70 L524.60,455.70" fill="none" stroke="#f0141e" stroke-width="2.0" stroke-linejoin="round" stroke-linecap="butt" />
<text x="507.3" y="397.3" font-size="28" font-weight="bold" font-family="Liberation Sans, sans-serif">e</text>
<text transform="translate(519.2,427.7) scale(1.095,1)" font-size="13.3" font-family="Liberation Sans, sans-serif">G (1ms)</text>
<rect x="522.9" y="434.1" width="1.7" height="17.5" fill="#000"/>
<rect x="549.0" y="617.8" width="33.6" height="3.3" fill="#000"/>
<rect x="583.1" y="595.1" width="3.4" height="20.9" fill="#000"/>
<text x="590.2" y="611.9" font-size="16.5" font-family="Liberation Sans, sans-serif">100pA</text>
<text x="547.6" y="639.0" font-size="16.5" font-family="Liberation Sans, sans-serif">20ms</text>
<text x="476.0" y="691.5" font-size="27.4" font-weight="bold" font-family="Liberation Sans, sans-serif">GluA2/3</text>
</svg>
</body></html>
